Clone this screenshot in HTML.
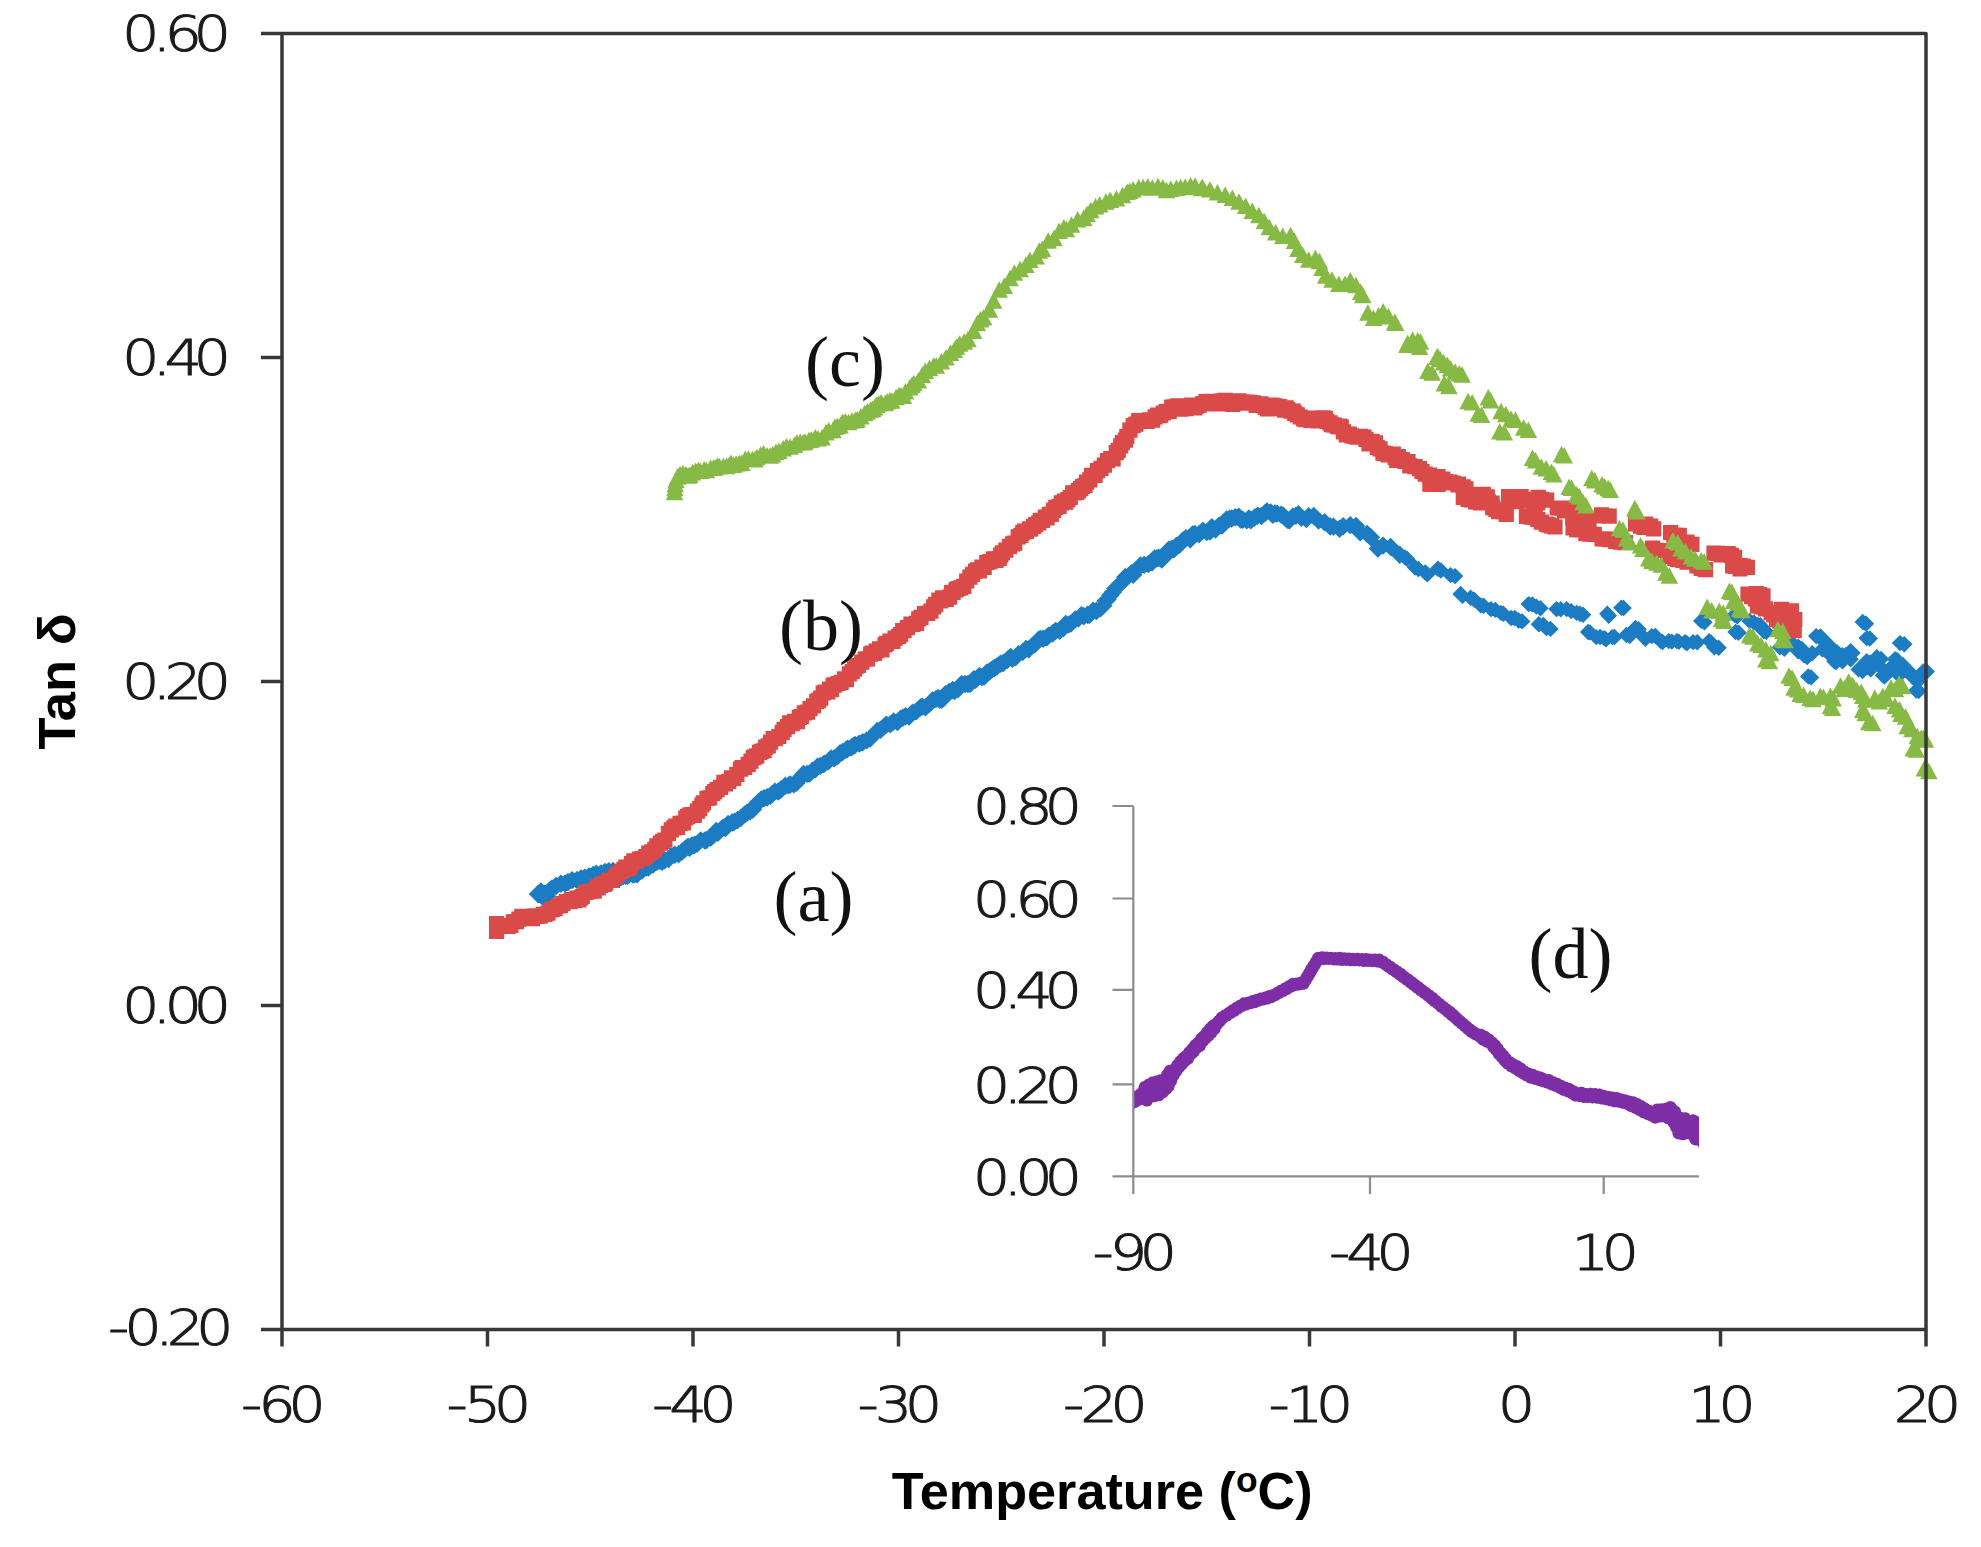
<!DOCTYPE html><html><head><meta charset="utf-8"><title>Tan delta vs Temperature</title>
<style>html,body{margin:0;padding:0;background:#fff}svg{display:block}.t{font-family:"DejaVu Sans Light","DejaVu Sans","Liberation Sans",sans-serif;font-weight:200;font-size:50.5px;letter-spacing:-6.5px;fill:#1a1a1a;stroke:#1a1a1a;stroke-width:1.0px}.ty{letter-spacing:-7.25px}.b{font-family:"Liberation Sans","DejaVu Sans",sans-serif;font-weight:bold;fill:#000}.s{font-family:"Liberation Serif",serif;font-size:72px;fill:#111}</style></head><body>
<svg width="1981" height="1547" viewBox="0 0 1981 1547">
<rect width="1981" height="1547" fill="#fff"/>
<path fill="#1c7cc3" d="M538 884.8l9.2 9.2l-9.2 9.2l-9.2 -9.2zM541 882.2l9.2 9.2l-9.2 9.2l-9.2 -9.2zM545 884.8l9.2 9.2l-9.2 9.2l-9.2 -9.2zM549 881.8l9.2 9.2l-9.2 9.2l-9.2 -9.2zM547 886.8l9.2 9.2l-9.2 9.2l-9.2 -9.2zM543 887.8l9.2 9.2l-9.2 9.2l-9.2 -9.2zM552 879.2l9.2 9.2l-9.2 9.2l-9.2 -9.2zM556 876.8l9.2 9.2l-9.2 9.2l-9.2 -9.2zM560.9 874.6l9.2 9.2l-9.2 9.2l-9.2 -9.2zM565 874.2l9.2 9.2l-9.2 9.2l-9.2 -9.2zM568 872.8l9.2 9.2l-9.2 9.2l-9.2 -9.2zM572.2 870.9l9.2 9.2l-9.2 9.2l-9.2 -9.2zM577 870.8l9.2 9.2l-9.2 9.2l-9.2 -9.2zM581 869.2l9.2 9.2l-9.2 9.2l-9.2 -9.2zM584.8 868.4l9.2 9.2l-9.2 9.2l-9.2 -9.2zM589 867.2l9.2 9.2l-9.2 9.2l-9.2 -9.2zM593 865.8l9.2 9.2l-9.2 9.2l-9.2 -9.2zM596.2 864.5l9.2 9.2l-9.2 9.2l-9.2 -9.2zM601 864.2l9.2 9.2l-9.2 9.2l-9.2 -9.2zM605 862.8l9.2 9.2l-9.2 9.2l-9.2 -9.2zM608.8 862l9.2 9.2l-9.2 9.2l-9.2 -9.2zM613 861.8l9.2 9.2l-9.2 9.2l-9.2 -9.2zM618 866.7l9.2 9.2l-9.2 9.2l-9.2 -9.2zM620.8 868.2l9.2 9.2l-9.2 9.2l-9.2 -9.2zM623 867.1l9.2 9.2l-9.2 9.2l-9.2 -9.2zM625.7 866.5l9.2 9.2l-9.2 9.2l-9.2 -9.2zM627.7 866.7l9.2 9.2l-9.2 9.2l-9.2 -9.2zM630.3 863.8l9.2 9.2l-9.2 9.2l-9.2 -9.2zM632.7 865l9.2 9.2l-9.2 9.2l-9.2 -9.2zM634.4 865l9.2 9.2l-9.2 9.2l-9.2 -9.2zM637.1 865l9.2 9.2l-9.2 9.2l-9.2 -9.2zM639.7 861.6l9.2 9.2l-9.2 9.2l-9.2 -9.2zM642 861.3l9.2 9.2l-9.2 9.2l-9.2 -9.2zM646.2 858.4l9.2 9.2l-9.2 9.2l-9.2 -9.2zM648.4 858.4l9.2 9.2l-9.2 9.2l-9.2 -9.2zM651.1 855.2l9.2 9.2l-9.2 9.2l-9.2 -9.2zM653.1 855.4l9.2 9.2l-9.2 9.2l-9.2 -9.2zM657 852.5l9.2 9.2l-9.2 9.2l-9.2 -9.2zM659.9 851.5l9.2 9.2l-9.2 9.2l-9.2 -9.2zM662.1 852.5l9.2 9.2l-9.2 9.2l-9.2 -9.2zM664.7 851.1l9.2 9.2l-9.2 9.2l-9.2 -9.2zM668.6 849.9l9.2 9.2l-9.2 9.2l-9.2 -9.2zM671.5 846.9l9.2 9.2l-9.2 9.2l-9.2 -9.2zM674.7 845.5l9.2 9.2l-9.2 9.2l-9.2 -9.2zM678.6 845.1l9.2 9.2l-9.2 9.2l-9.2 -9.2zM682.5 842l9.2 9.2l-9.2 9.2l-9.2 -9.2zM685.2 839.7l9.2 9.2l-9.2 9.2l-9.2 -9.2zM688 837.6l9.2 9.2l-9.2 9.2l-9.2 -9.2zM689.6 838.6l9.2 9.2l-9.2 9.2l-9.2 -9.2zM692 836.3l9.2 9.2l-9.2 9.2l-9.2 -9.2zM694.5 835.8l9.2 9.2l-9.2 9.2l-9.2 -9.2zM697.3 834.4l9.2 9.2l-9.2 9.2l-9.2 -9.2zM700.7 831.2l9.2 9.2l-9.2 9.2l-9.2 -9.2zM704.9 831.3l9.2 9.2l-9.2 9.2l-9.2 -9.2zM706.7 830.7l9.2 9.2l-9.2 9.2l-9.2 -9.2zM710.8 828.3l9.2 9.2l-9.2 9.2l-9.2 -9.2zM712.8 826.7l9.2 9.2l-9.2 9.2l-9.2 -9.2zM716.2 821.7l9.2 9.2l-9.2 9.2l-9.2 -9.2zM717.9 823.6l9.2 9.2l-9.2 9.2l-9.2 -9.2zM721.3 820l9.2 9.2l-9.2 9.2l-9.2 -9.2zM723.2 818.6l9.2 9.2l-9.2 9.2l-9.2 -9.2zM725.5 818.8l9.2 9.2l-9.2 9.2l-9.2 -9.2zM728.1 814.7l9.2 9.2l-9.2 9.2l-9.2 -9.2zM732.2 813.3l9.2 9.2l-9.2 9.2l-9.2 -9.2zM734.3 812.7l9.2 9.2l-9.2 9.2l-9.2 -9.2zM737.6 810.8l9.2 9.2l-9.2 9.2l-9.2 -9.2zM741 808.5l9.2 9.2l-9.2 9.2l-9.2 -9.2zM744.8 805.2l9.2 9.2l-9.2 9.2l-9.2 -9.2zM747 803.5l9.2 9.2l-9.2 9.2l-9.2 -9.2zM750.1 802l9.2 9.2l-9.2 9.2l-9.2 -9.2zM752.9 800.3l9.2 9.2l-9.2 9.2l-9.2 -9.2zM756 795.5l9.2 9.2l-9.2 9.2l-9.2 -9.2zM758.3 792.9l9.2 9.2l-9.2 9.2l-9.2 -9.2zM761.3 790.3l9.2 9.2l-9.2 9.2l-9.2 -9.2zM764.2 788.9l9.2 9.2l-9.2 9.2l-9.2 -9.2zM767.2 788.1l9.2 9.2l-9.2 9.2l-9.2 -9.2zM770.3 786.6l9.2 9.2l-9.2 9.2l-9.2 -9.2zM772 785.1l9.2 9.2l-9.2 9.2l-9.2 -9.2zM774.9 782.4l9.2 9.2l-9.2 9.2l-9.2 -9.2zM778.3 782.3l9.2 9.2l-9.2 9.2l-9.2 -9.2zM781 780.3l9.2 9.2l-9.2 9.2l-9.2 -9.2zM785.2 776.8l9.2 9.2l-9.2 9.2l-9.2 -9.2zM788.6 776.2l9.2 9.2l-9.2 9.2l-9.2 -9.2zM790.3 775.3l9.2 9.2l-9.2 9.2l-9.2 -9.2zM793.8 775l9.2 9.2l-9.2 9.2l-9.2 -9.2zM796.4 773.7l9.2 9.2l-9.2 9.2l-9.2 -9.2zM799.4 769.6l9.2 9.2l-9.2 9.2l-9.2 -9.2zM803.5 764.7l9.2 9.2l-9.2 9.2l-9.2 -9.2zM807.1 764.7l9.2 9.2l-9.2 9.2l-9.2 -9.2zM809.6 764.4l9.2 9.2l-9.2 9.2l-9.2 -9.2zM812.3 761.6l9.2 9.2l-9.2 9.2l-9.2 -9.2zM815.3 760.1l9.2 9.2l-9.2 9.2l-9.2 -9.2zM817.5 757.6l9.2 9.2l-9.2 9.2l-9.2 -9.2zM820.3 756.7l9.2 9.2l-9.2 9.2l-9.2 -9.2zM824.2 754.6l9.2 9.2l-9.2 9.2l-9.2 -9.2zM828.1 752.3l9.2 9.2l-9.2 9.2l-9.2 -9.2zM831.1 749.2l9.2 9.2l-9.2 9.2l-9.2 -9.2zM834.1 749.2l9.2 9.2l-9.2 9.2l-9.2 -9.2zM837.5 747l9.2 9.2l-9.2 9.2l-9.2 -9.2zM840.1 744.1l9.2 9.2l-9.2 9.2l-9.2 -9.2zM842.6 742.9l9.2 9.2l-9.2 9.2l-9.2 -9.2zM845.9 740.7l9.2 9.2l-9.2 9.2l-9.2 -9.2zM847.7 739.5l9.2 9.2l-9.2 9.2l-9.2 -9.2zM851.7 737.9l9.2 9.2l-9.2 9.2l-9.2 -9.2zM853.5 736.7l9.2 9.2l-9.2 9.2l-9.2 -9.2zM855.2 735.7l9.2 9.2l-9.2 9.2l-9.2 -9.2zM859.3 734.4l9.2 9.2l-9.2 9.2l-9.2 -9.2zM862.7 733.1l9.2 9.2l-9.2 9.2l-9.2 -9.2zM866.8 731.2l9.2 9.2l-9.2 9.2l-9.2 -9.2zM870.2 729.3l9.2 9.2l-9.2 9.2l-9.2 -9.2zM873.7 725.8l9.2 9.2l-9.2 9.2l-9.2 -9.2zM877.2 721.7l9.2 9.2l-9.2 9.2l-9.2 -9.2zM880.6 720.5l9.2 9.2l-9.2 9.2l-9.2 -9.2zM884.3 717.2l9.2 9.2l-9.2 9.2l-9.2 -9.2zM886.5 715.4l9.2 9.2l-9.2 9.2l-9.2 -9.2zM890.2 715.2l9.2 9.2l-9.2 9.2l-9.2 -9.2zM893.6 712.3l9.2 9.2l-9.2 9.2l-9.2 -9.2zM897.5 712.8l9.2 9.2l-9.2 9.2l-9.2 -9.2zM900.7 709.6l9.2 9.2l-9.2 9.2l-9.2 -9.2zM903.1 708.4l9.2 9.2l-9.2 9.2l-9.2 -9.2zM905.6 707l9.2 9.2l-9.2 9.2l-9.2 -9.2zM909 707.3l9.2 9.2l-9.2 9.2l-9.2 -9.2zM910.8 705.7l9.2 9.2l-9.2 9.2l-9.2 -9.2zM912.6 703.5l9.2 9.2l-9.2 9.2l-9.2 -9.2zM916.4 701.9l9.2 9.2l-9.2 9.2l-9.2 -9.2zM920.5 698.3l9.2 9.2l-9.2 9.2l-9.2 -9.2zM922.2 697.4l9.2 9.2l-9.2 9.2l-9.2 -9.2zM925.5 698l9.2 9.2l-9.2 9.2l-9.2 -9.2zM929.8 694.3l9.2 9.2l-9.2 9.2l-9.2 -9.2zM932.5 691.2l9.2 9.2l-9.2 9.2l-9.2 -9.2zM935.9 689.9l9.2 9.2l-9.2 9.2l-9.2 -9.2zM938 688.7l9.2 9.2l-9.2 9.2l-9.2 -9.2zM939.7 690.3l9.2 9.2l-9.2 9.2l-9.2 -9.2zM941.6 690.5l9.2 9.2l-9.2 9.2l-9.2 -9.2zM943.5 689.1l9.2 9.2l-9.2 9.2l-9.2 -9.2zM945.5 684.9l9.2 9.2l-9.2 9.2l-9.2 -9.2zM949.1 682.8l9.2 9.2l-9.2 9.2l-9.2 -9.2zM952.7 680.8l9.2 9.2l-9.2 9.2l-9.2 -9.2zM954.5 681.8l9.2 9.2l-9.2 9.2l-9.2 -9.2zM958.1 679.9l9.2 9.2l-9.2 9.2l-9.2 -9.2zM961.7 674.7l9.2 9.2l-9.2 9.2l-9.2 -9.2zM965.1 674.8l9.2 9.2l-9.2 9.2l-9.2 -9.2zM968 674.8l9.2 9.2l-9.2 9.2l-9.2 -9.2zM970.3 674.5l9.2 9.2l-9.2 9.2l-9.2 -9.2zM973.9 669.9l9.2 9.2l-9.2 9.2l-9.2 -9.2zM975.6 670.7l9.2 9.2l-9.2 9.2l-9.2 -9.2zM979.4 666.8l9.2 9.2l-9.2 9.2l-9.2 -9.2zM981.9 667.9l9.2 9.2l-9.2 9.2l-9.2 -9.2zM984 667.6l9.2 9.2l-9.2 9.2l-9.2 -9.2zM987 663.3l9.2 9.2l-9.2 9.2l-9.2 -9.2zM989.6 662.3l9.2 9.2l-9.2 9.2l-9.2 -9.2zM992.5 659.9l9.2 9.2l-9.2 9.2l-9.2 -9.2zM994.5 658.9l9.2 9.2l-9.2 9.2l-9.2 -9.2zM997.1 657.1l9.2 9.2l-9.2 9.2l-9.2 -9.2zM1000.5 654.6l9.2 9.2l-9.2 9.2l-9.2 -9.2zM1003.2 653.8l9.2 9.2l-9.2 9.2l-9.2 -9.2zM1007.4 650.5l9.2 9.2l-9.2 9.2l-9.2 -9.2zM1010.6 647.8l9.2 9.2l-9.2 9.2l-9.2 -9.2zM1012.4 649.5l9.2 9.2l-9.2 9.2l-9.2 -9.2zM1015.9 647.6l9.2 9.2l-9.2 9.2l-9.2 -9.2zM1018.5 645.1l9.2 9.2l-9.2 9.2l-9.2 -9.2zM1022.8 642.7l9.2 9.2l-9.2 9.2l-9.2 -9.2zM1026 639.7l9.2 9.2l-9.2 9.2l-9.2 -9.2zM1028.8 640.1l9.2 9.2l-9.2 9.2l-9.2 -9.2zM1031.5 637.4l9.2 9.2l-9.2 9.2l-9.2 -9.2zM1034.8 635l9.2 9.2l-9.2 9.2l-9.2 -9.2zM1038.6 630.5l9.2 9.2l-9.2 9.2l-9.2 -9.2zM1040.3 629.7l9.2 9.2l-9.2 9.2l-9.2 -9.2zM1043.1 629.6l9.2 9.2l-9.2 9.2l-9.2 -9.2zM1046.9 628l9.2 9.2l-9.2 9.2l-9.2 -9.2zM1048.7 626.4l9.2 9.2l-9.2 9.2l-9.2 -9.2zM1052.5 624.3l9.2 9.2l-9.2 9.2l-9.2 -9.2zM1055.7 621.7l9.2 9.2l-9.2 9.2l-9.2 -9.2zM1059.7 621.6l9.2 9.2l-9.2 9.2l-9.2 -9.2zM1063.2 619.1l9.2 9.2l-9.2 9.2l-9.2 -9.2zM1065.7 614.7l9.2 9.2l-9.2 9.2l-9.2 -9.2zM1068.9 615.2l9.2 9.2l-9.2 9.2l-9.2 -9.2zM1071.1 614.2l9.2 9.2l-9.2 9.2l-9.2 -9.2zM1075.2 610.3l9.2 9.2l-9.2 9.2l-9.2 -9.2zM1078.5 609l9.2 9.2l-9.2 9.2l-9.2 -9.2zM1081.4 606.1l9.2 9.2l-9.2 9.2l-9.2 -9.2zM1083.8 607.1l9.2 9.2l-9.2 9.2l-9.2 -9.2zM1087.6 605.5l9.2 9.2l-9.2 9.2l-9.2 -9.2zM1089.5 605.7l9.2 9.2l-9.2 9.2l-9.2 -9.2zM1093.2 601.5l9.2 9.2l-9.2 9.2l-9.2 -9.2zM1096.4 601.8l9.2 9.2l-9.2 9.2l-9.2 -9.2zM1100.4 599.2l9.2 9.2l-9.2 9.2l-9.2 -9.2zM1103.4 596.3l9.2 9.2l-9.2 9.2l-9.2 -9.2zM1105.5 591.9l9.2 9.2l-9.2 9.2l-9.2 -9.2zM1107.7 590.1l9.2 9.2l-9.2 9.2l-9.2 -9.2zM1110.3 586.1l9.2 9.2l-9.2 9.2l-9.2 -9.2zM1113 582.9l9.2 9.2l-9.2 9.2l-9.2 -9.2zM1115.1 579.5l9.2 9.2l-9.2 9.2l-9.2 -9.2zM1119.4 575.4l9.2 9.2l-9.2 9.2l-9.2 -9.2zM1121.4 573.7l9.2 9.2l-9.2 9.2l-9.2 -9.2zM1125.2 568.1l9.2 9.2l-9.2 9.2l-9.2 -9.2zM1128.4 566.7l9.2 9.2l-9.2 9.2l-9.2 -9.2zM1131.5 564l9.2 9.2l-9.2 9.2l-9.2 -9.2zM1133.2 565.5l9.2 9.2l-9.2 9.2l-9.2 -9.2zM1137.2 559.8l9.2 9.2l-9.2 9.2l-9.2 -9.2zM1140.4 556.2l9.2 9.2l-9.2 9.2l-9.2 -9.2zM1144.1 555.7l9.2 9.2l-9.2 9.2l-9.2 -9.2zM1148.3 554.9l9.2 9.2l-9.2 9.2l-9.2 -9.2zM1152.2 553l9.2 9.2l-9.2 9.2l-9.2 -9.2zM1154.5 549.2l9.2 9.2l-9.2 9.2l-9.2 -9.2zM1156.7 549.2l9.2 9.2l-9.2 9.2l-9.2 -9.2zM1158.6 548.6l9.2 9.2l-9.2 9.2l-9.2 -9.2zM1161.8 550.3l9.2 9.2l-9.2 9.2l-9.2 -9.2zM1164.6 547.5l9.2 9.2l-9.2 9.2l-9.2 -9.2zM1168.8 540.6l9.2 9.2l-9.2 9.2l-9.2 -9.2zM1172 539.6l9.2 9.2l-9.2 9.2l-9.2 -9.2zM1174 540.1l9.2 9.2l-9.2 9.2l-9.2 -9.2zM1176.3 536.7l9.2 9.2l-9.2 9.2l-9.2 -9.2zM1179.7 535.4l9.2 9.2l-9.2 9.2l-9.2 -9.2zM1183.2 531l9.2 9.2l-9.2 9.2l-9.2 -9.2zM1186 528.9l9.2 9.2l-9.2 9.2l-9.2 -9.2zM1190.3 530.2l9.2 9.2l-9.2 9.2l-9.2 -9.2zM1192.5 525.3l9.2 9.2l-9.2 9.2l-9.2 -9.2zM1194.9 524.7l9.2 9.2l-9.2 9.2l-9.2 -9.2zM1199 525l9.2 9.2l-9.2 9.2l-9.2 -9.2zM1202.9 521.4l9.2 9.2l-9.2 9.2l-9.2 -9.2zM1206.7 522.9l9.2 9.2l-9.2 9.2l-9.2 -9.2zM1210 522.3l9.2 9.2l-9.2 9.2l-9.2 -9.2zM1211.8 518.1l9.2 9.2l-9.2 9.2l-9.2 -9.2zM1215.5 520.3l9.2 9.2l-9.2 9.2l-9.2 -9.2zM1219 516.6l9.2 9.2l-9.2 9.2l-9.2 -9.2zM1222.3 516.2l9.2 9.2l-9.2 9.2l-9.2 -9.2zM1224.2 512.7l9.2 9.2l-9.2 9.2l-9.2 -9.2zM1226.5 510.2l9.2 9.2l-9.2 9.2l-9.2 -9.2zM1229.5 509.6l9.2 9.2l-9.2 9.2l-9.2 -9.2zM1231.8 509.3l9.2 9.2l-9.2 9.2l-9.2 -9.2zM1235.3 508.1l9.2 9.2l-9.2 9.2l-9.2 -9.2zM1238.8 507.5l9.2 9.2l-9.2 9.2l-9.2 -9.2zM1240.6 510.4l9.2 9.2l-9.2 9.2l-9.2 -9.2zM1242.8 510.5l9.2 9.2l-9.2 9.2l-9.2 -9.2zM1246.8 511.2l9.2 9.2l-9.2 9.2l-9.2 -9.2zM1248.9 509.3l9.2 9.2l-9.2 9.2l-9.2 -9.2zM1250.8 511.1l9.2 9.2l-9.2 9.2l-9.2 -9.2zM1254.7 508.3l9.2 9.2l-9.2 9.2l-9.2 -9.2zM1257.6 506.4l9.2 9.2l-9.2 9.2l-9.2 -9.2zM1261.4 506.8l9.2 9.2l-9.2 9.2l-9.2 -9.2zM1264.8 504l9.2 9.2l-9.2 9.2l-9.2 -9.2zM1267 502.2l9.2 9.2l-9.2 9.2l-9.2 -9.2zM1270.6 503.2l9.2 9.2l-9.2 9.2l-9.2 -9.2zM1272.7 505.5l9.2 9.2l-9.2 9.2l-9.2 -9.2zM1275 504.3l9.2 9.2l-9.2 9.2l-9.2 -9.2zM1277.1 504.4l9.2 9.2l-9.2 9.2l-9.2 -9.2zM1281 505.4l9.2 9.2l-9.2 9.2l-9.2 -9.2zM1283.1 506.3l9.2 9.2l-9.2 9.2l-9.2 -9.2zM1285.6 509.1l9.2 9.2l-9.2 9.2l-9.2 -9.2zM1287.6 510.5l9.2 9.2l-9.2 9.2l-9.2 -9.2zM1289.4 511l9.2 9.2l-9.2 9.2l-9.2 -9.2zM1292.8 507.5l9.2 9.2l-9.2 9.2l-9.2 -9.2zM1295.9 506.6l9.2 9.2l-9.2 9.2l-9.2 -9.2zM1298.4 505l9.2 9.2l-9.2 9.2l-9.2 -9.2zM1301.4 508.6l9.2 9.2l-9.2 9.2l-9.2 -9.2zM1306.4 509.9l9.2 9.2l-9.2 9.2l-9.2 -9.2zM1308.7 507l9.2 9.2l-9.2 9.2l-9.2 -9.2zM1313.8 506.8l9.2 9.2l-9.2 9.2l-9.2 -9.2zM1318.6 511.4l9.2 9.2l-9.2 9.2l-9.2 -9.2zM1324.6 513.1l9.2 9.2l-9.2 9.2l-9.2 -9.2zM1330.2 517.3l9.2 9.2l-9.2 9.2l-9.2 -9.2zM1333.4 517.4l9.2 9.2l-9.2 9.2l-9.2 -9.2zM1339.6 519.6l9.2 9.2l-9.2 9.2l-9.2 -9.2zM1343.2 517l9.2 9.2l-9.2 9.2l-9.2 -9.2zM1350.3 515.9l9.2 9.2l-9.2 9.2l-9.2 -9.2zM1356.1 516.8l9.2 9.2l-9.2 9.2l-9.2 -9.2zM1360.1 523.1l9.2 9.2l-9.2 9.2l-9.2 -9.2zM1367.1 524.7l9.2 9.2l-9.2 9.2l-9.2 -9.2zM1370.9 528l9.2 9.2l-9.2 9.2l-9.2 -9.2zM1377.9 539.4l9.2 9.2l-9.2 9.2l-9.2 -9.2zM1383.1 536.4l9.2 9.2l-9.2 9.2l-9.2 -9.2zM1390.6 537.7l9.2 9.2l-9.2 9.2l-9.2 -9.2zM1399.7 545.5l9.2 9.2l-9.2 9.2l-9.2 -9.2zM1405 549.2l8.2 8.2l-8.2 8.2l-8.2 -8.2zM1407.2 550.7l8.2 8.2l-8.2 8.2l-8.2 -8.2zM1415.1 559.3l8.2 8.2l-8.2 8.2l-8.2 -8.2zM1418.4 560.8l8.2 8.2l-8.2 8.2l-8.2 -8.2zM1425.2 564.3l8.2 8.2l-8.2 8.2l-8.2 -8.2zM1427.4 566l8.2 8.2l-8.2 8.2l-8.2 -8.2zM1437.9 560.6l8.2 8.2l-8.2 8.2l-8.2 -8.2zM1440.9 562.3l8.2 8.2l-8.2 8.2l-8.2 -8.2zM1450.5 566.9l8.2 8.2l-8.2 8.2l-8.2 -8.2zM1455.1 567.9l8.2 8.2l-8.2 8.2l-8.2 -8.2zM1460.6 585.8l8.2 8.2l-8.2 8.2l-8.2 -8.2zM1462.6 587.7l8.2 8.2l-8.2 8.2l-8.2 -8.2zM1470.7 589.6l8.2 8.2l-8.2 8.2l-8.2 -8.2zM1474.1 591.4l8.2 8.2l-8.2 8.2l-8.2 -8.2zM1480.8 597.2l8.2 8.2l-8.2 8.2l-8.2 -8.2zM1483.6 597.6l8.2 8.2l-8.2 8.2l-8.2 -8.2zM1490.9 600.9l8.2 8.2l-8.2 8.2l-8.2 -8.2zM1495.4 601.7l8.2 8.2l-8.2 8.2l-8.2 -8.2zM1501 604.7l8.2 8.2l-8.2 8.2l-8.2 -8.2zM1503.4 605.5l8.2 8.2l-8.2 8.2l-8.2 -8.2zM1511.1 609.8l8.2 8.2l-8.2 8.2l-8.2 -8.2zM1514.8 609.8l8.2 8.2l-8.2 8.2l-8.2 -8.2zM1518.6 612.3l8.2 8.2l-8.2 8.2l-8.2 -8.2zM1522.2 613.2l8.2 8.2l-8.2 8.2l-8.2 -8.2zM1528.7 595.9l8.2 8.2l-8.2 8.2l-8.2 -8.2zM1532.3 596.2l8.2 8.2l-8.2 8.2l-8.2 -8.2zM1536.3 598.4l8.2 8.2l-8.2 8.2l-8.2 -8.2zM1540.4 600.1l8.2 8.2l-8.2 8.2l-8.2 -8.2zM1538.8 616.1l8.2 8.2l-8.2 8.2l-8.2 -8.2zM1543.4 616.8l8.2 8.2l-8.2 8.2l-8.2 -8.2zM1546.4 619.9l8.2 8.2l-8.2 8.2l-8.2 -8.2zM1550.5 620.7l8.2 8.2l-8.2 8.2l-8.2 -8.2zM1556.5 600.9l8.2 8.2l-8.2 8.2l-8.2 -8.2zM1560.7 601.1l8.2 8.2l-8.2 8.2l-8.2 -8.2zM1566.6 600.9l8.2 8.2l-8.2 8.2l-8.2 -8.2zM1571.2 602.9l8.2 8.2l-8.2 8.2l-8.2 -8.2zM1576.7 604.7l8.2 8.2l-8.2 8.2l-8.2 -8.2zM1580.2 605.8l8.2 8.2l-8.2 8.2l-8.2 -8.2zM1580 605.6l8.2 8.2l-8.2 8.2l-8.2 -8.2zM1583.1 606.6l8.2 8.2l-8.2 8.2l-8.2 -8.2zM1607.3 605.6l8.2 8.2l-8.2 8.2l-8.2 -8.2zM1608.8 607.5l8.2 8.2l-8.2 8.2l-8.2 -8.2zM1621.4 599.6l8.2 8.2l-8.2 8.2l-8.2 -8.2zM1623.6 599.8l8.2 8.2l-8.2 8.2l-8.2 -8.2zM1588.1 623.8l8.2 8.2l-8.2 8.2l-8.2 -8.2zM1589.9 624.2l8.2 8.2l-8.2 8.2l-8.2 -8.2zM1596.2 628.9l8.2 8.2l-8.2 8.2l-8.2 -8.2zM1600.1 628.8l8.2 8.2l-8.2 8.2l-8.2 -8.2zM1604.2 629.9l8.2 8.2l-8.2 8.2l-8.2 -8.2zM1606 631.2l8.2 8.2l-8.2 8.2l-8.2 -8.2zM1612.3 628.9l8.2 8.2l-8.2 8.2l-8.2 -8.2zM1614.4 628.8l8.2 8.2l-8.2 8.2l-8.2 -8.2zM1626.4 626.8l8.2 8.2l-8.2 8.2l-8.2 -8.2zM1629.7 627.9l8.2 8.2l-8.2 8.2l-8.2 -8.2zM1635.5 619.8l8.2 8.2l-8.2 8.2l-8.2 -8.2zM1638.6 621.1l8.2 8.2l-8.2 8.2l-8.2 -8.2zM1643.6 628.9l8.2 8.2l-8.2 8.2l-8.2 -8.2zM1645.4 630.5l8.2 8.2l-8.2 8.2l-8.2 -8.2zM1651.7 627.9l8.2 8.2l-8.2 8.2l-8.2 -8.2zM1655.3 627.8l8.2 8.2l-8.2 8.2l-8.2 -8.2zM1660.8 632.9l8.2 8.2l-8.2 8.2l-8.2 -8.2zM1662.6 633.8l8.2 8.2l-8.2 8.2l-8.2 -8.2zM1668.8 632.9l8.2 8.2l-8.2 8.2l-8.2 -8.2zM1671.8 633.4l8.2 8.2l-8.2 8.2l-8.2 -8.2zM1676.9 632.9l8.2 8.2l-8.2 8.2l-8.2 -8.2zM1678.8 633.6l8.2 8.2l-8.2 8.2l-8.2 -8.2zM1685 633.9l8.2 8.2l-8.2 8.2l-8.2 -8.2zM1686.9 635l8.2 8.2l-8.2 8.2l-8.2 -8.2zM1693.1 633.9l8.2 8.2l-8.2 8.2l-8.2 -8.2zM1697.2 634.1l8.2 8.2l-8.2 8.2l-8.2 -8.2zM1701.2 612.7l8.2 8.2l-8.2 8.2l-8.2 -8.2zM1704.4 614.1l8.2 8.2l-8.2 8.2l-8.2 -8.2zM1709.2 632.9l8.2 8.2l-8.2 8.2l-8.2 -8.2zM1711.2 634.5l8.2 8.2l-8.2 8.2l-8.2 -8.2zM1714.3 639l8.2 8.2l-8.2 8.2l-8.2 -8.2zM1718.6 639.6l8.2 8.2l-8.2 8.2l-8.2 -8.2zM1734.5 606.7l8.2 8.2l-8.2 8.2l-8.2 -8.2zM1737.2 608.2l8.2 8.2l-8.2 8.2l-8.2 -8.2zM1735.5 623.8l8.2 8.2l-8.2 8.2l-8.2 -8.2zM1738.6 624.5l8.2 8.2l-8.2 8.2l-8.2 -8.2zM1749.6 612.7l8.2 8.2l-8.2 8.2l-8.2 -8.2zM1753.9 614.2l8.2 8.2l-8.2 8.2l-8.2 -8.2zM1757.7 616.7l8.2 8.2l-8.2 8.2l-8.2 -8.2zM1760.2 617.1l8.2 8.2l-8.2 8.2l-8.2 -8.2zM1763.7 622.8l8.2 8.2l-8.2 8.2l-8.2 -8.2zM1766.3 623.6l8.2 8.2l-8.2 8.2l-8.2 -8.2zM1779.9 639l8.2 8.2l-8.2 8.2l-8.2 -8.2zM1784.3 640.5l8.2 8.2l-8.2 8.2l-8.2 -8.2zM1794 636.9l8.2 8.2l-8.2 8.2l-8.2 -8.2zM1798.3 638.5l8.2 8.2l-8.2 8.2l-8.2 -8.2zM1798.1 643l8.2 8.2l-8.2 8.2l-8.2 -8.2zM1802.1 643l8.2 8.2l-8.2 8.2l-8.2 -8.2zM1804.1 647l8.2 8.2l-8.2 8.2l-8.2 -8.2zM1807.2 648.9l8.2 8.2l-8.2 8.2l-8.2 -8.2zM1816.2 627.9l8.2 8.2l-8.2 8.2l-8.2 -8.2zM1820.5 628.3l8.2 8.2l-8.2 8.2l-8.2 -8.2zM1825.3 634.9l8.2 8.2l-8.2 8.2l-8.2 -8.2zM1828.1 636.1l8.2 8.2l-8.2 8.2l-8.2 -8.2zM1834.4 643l8.2 8.2l-8.2 8.2l-8.2 -8.2zM1837 644l8.2 8.2l-8.2 8.2l-8.2 -8.2zM1834.4 653.1l8.2 8.2l-8.2 8.2l-8.2 -8.2zM1836.1 653.9l8.2 8.2l-8.2 8.2l-8.2 -8.2zM1842.5 647l8.2 8.2l-8.2 8.2l-8.2 -8.2zM1845.5 647l8.2 8.2l-8.2 8.2l-8.2 -8.2zM1850.6 643l8.2 8.2l-8.2 8.2l-8.2 -8.2zM1852.5 644.8l8.2 8.2l-8.2 8.2l-8.2 -8.2zM1858.6 661.2l8.2 8.2l-8.2 8.2l-8.2 -8.2zM1862.5 662.9l8.2 8.2l-8.2 8.2l-8.2 -8.2zM1866.7 653.1l8.2 8.2l-8.2 8.2l-8.2 -8.2zM1870.1 654.6l8.2 8.2l-8.2 8.2l-8.2 -8.2zM1876.8 649.1l8.2 8.2l-8.2 8.2l-8.2 -8.2zM1881 650.7l8.2 8.2l-8.2 8.2l-8.2 -8.2zM1882.9 667.2l8.2 8.2l-8.2 8.2l-8.2 -8.2zM1884.5 668.4l8.2 8.2l-8.2 8.2l-8.2 -8.2zM1891 659.2l8.2 8.2l-8.2 8.2l-8.2 -8.2zM1893.3 660.4l8.2 8.2l-8.2 8.2l-8.2 -8.2zM1895 651.1l8.2 8.2l-8.2 8.2l-8.2 -8.2zM1897.3 652.1l8.2 8.2l-8.2 8.2l-8.2 -8.2zM1900 634.9l8.2 8.2l-8.2 8.2l-8.2 -8.2zM1904.3 636.1l8.2 8.2l-8.2 8.2l-8.2 -8.2zM1907.1 663.2l8.2 8.2l-8.2 8.2l-8.2 -8.2zM1909.4 664.1l8.2 8.2l-8.2 8.2l-8.2 -8.2zM1915.2 671.3l8.2 8.2l-8.2 8.2l-8.2 -8.2zM1918 673.1l8.2 8.2l-8.2 8.2l-8.2 -8.2zM1916.2 682.4l8.2 8.2l-8.2 8.2l-8.2 -8.2zM1918.6 682.9l8.2 8.2l-8.2 8.2l-8.2 -8.2zM1923.3 663.2l8.2 8.2l-8.2 8.2l-8.2 -8.2zM1926.7 663.3l8.2 8.2l-8.2 8.2l-8.2 -8.2zM1862.7 613.7l8.2 8.2l-8.2 8.2l-8.2 -8.2zM1866 615.5l8.2 8.2l-8.2 8.2l-8.2 -8.2zM1866.7 629.9l8.2 8.2l-8.2 8.2l-8.2 -8.2zM1869.8 630.3l8.2 8.2l-8.2 8.2l-8.2 -8.2zM1808.2 668.2l8.2 8.2l-8.2 8.2l-8.2 -8.2zM1811.1 669.2l8.2 8.2l-8.2 8.2l-8.2 -8.2zM1790 632.9l8.2 8.2l-8.2 8.2l-8.2 -8.2zM1802.1 641l8.2 8.2l-8.2 8.2l-8.2 -8.2zM1812.2 645l8.2 8.2l-8.2 8.2l-8.2 -8.2zM1822.3 641l8.2 8.2l-8.2 8.2l-8.2 -8.2zM1830.4 647l8.2 8.2l-8.2 8.2l-8.2 -8.2zM1842.5 653.1l8.2 8.2l-8.2 8.2l-8.2 -8.2zM1850.6 651.1l8.2 8.2l-8.2 8.2l-8.2 -8.2zM1862.7 661.2l8.2 8.2l-8.2 8.2l-8.2 -8.2zM1870.8 661.2l8.2 8.2l-8.2 8.2l-8.2 -8.2zM1878.8 657.1l8.2 8.2l-8.2 8.2l-8.2 -8.2zM1886.9 665.2l8.2 8.2l-8.2 8.2l-8.2 -8.2zM1899 667.2l8.2 8.2l-8.2 8.2l-8.2 -8.2zM1903.1 657.1l8.2 8.2l-8.2 8.2l-8.2 -8.2zM1911.1 665.2l8.2 8.2l-8.2 8.2l-8.2 -8.2zM1919.2 671.3l8.2 8.2l-8.2 8.2l-8.2 -8.2z"/>
<path fill="#da4a48" d="M489 915.9h15.2v15.2h-15.2zM489 923.9h15.2v15.2h-15.2zM489 919.9h15.2v15.2h-15.2zM492.4 918.9h15.2v15.2h-15.2zM496.4 918.2h15.2v15.2h-15.2zM500.4 918.7h15.2v15.2h-15.2zM503.2 917.9h15.2v15.2h-15.2zM505.7 914.3h15.2v15.2h-15.2zM508.8 914.1h15.2v15.2h-15.2zM511.3 911.5h15.2v15.2h-15.2zM514.2 908.8h15.2v15.2h-15.2zM517.2 909.3h15.2v15.2h-15.2zM518.8 909.5h15.2v15.2h-15.2zM521.8 909.3h15.2v15.2h-15.2zM524.8 911.1h15.2v15.2h-15.2zM527.3 908.3h15.2v15.2h-15.2zM529.8 908.7h15.2v15.2h-15.2zM532.9 908.4h15.2v15.2h-15.2zM535.7 906.7h15.2v15.2h-15.2zM537.4 906.9h15.2v15.2h-15.2zM540.4 905.5h15.2v15.2h-15.2zM543.1 902.4h15.2v15.2h-15.2zM544.6 901.8h15.2v15.2h-15.2zM547.5 901h15.2v15.2h-15.2zM550.4 898.4h15.2v15.2h-15.2zM552.9 898.1h15.2v15.2h-15.2zM555.3 895.9h15.2v15.2h-15.2zM558.7 893.9h15.2v15.2h-15.2zM562.3 894h15.2v15.2h-15.2zM563.7 892h15.2v15.2h-15.2zM566.9 893.1h15.2v15.2h-15.2zM569.3 890.6h15.2v15.2h-15.2zM571.2 892.3h15.2v15.2h-15.2zM573 890.2h15.2v15.2h-15.2zM574.7 888.9h15.2v15.2h-15.2zM578.2 884.8h15.2v15.2h-15.2zM581.5 884h15.2v15.2h-15.2zM584.8 883.6h15.2v15.2h-15.2zM586.7 883.6h15.2v15.2h-15.2zM589.2 879.6h15.2v15.2h-15.2zM590.6 880.2h15.2v15.2h-15.2zM593 877.8h15.2v15.2h-15.2zM594.7 876.6h15.2v15.2h-15.2zM596.7 876.7h15.2v15.2h-15.2zM598.1 875.6h15.2v15.2h-15.2zM601.4 872.5h15.2v15.2h-15.2zM604.8 872.9h15.2v15.2h-15.2zM608.2 868.6h15.2v15.2h-15.2zM610.5 866.6h15.2v15.2h-15.2zM614.1 863.8h15.2v15.2h-15.2zM616.3 861.8h15.2v15.2h-15.2zM618.3 859.5h15.2v15.2h-15.2zM619.9 861h15.2v15.2h-15.2zM621.9 859.9h15.2v15.2h-15.2zM623.8 856.1h15.2v15.2h-15.2zM626.3 853.3h15.2v15.2h-15.2zM628.6 853.8h15.2v15.2h-15.2zM631.9 851.4h15.2v15.2h-15.2zM634.7 851.1h15.2v15.2h-15.2zM638.2 849h15.2v15.2h-15.2zM641.2 845.6h15.2v15.2h-15.2zM644.2 844.3h15.2v15.2h-15.2zM647.3 841.8h15.2v15.2h-15.2zM649.3 838.2h15.2v15.2h-15.2zM652.8 835.6h15.2v15.2h-15.2zM655.2 833.8h15.2v15.2h-15.2zM657.3 832.4h15.2v15.2h-15.2zM660.8 825.7h15.2v15.2h-15.2zM663.7 822.2h15.2v15.2h-15.2zM666.3 820.2h15.2v15.2h-15.2zM668.1 818.4h15.2v15.2h-15.2zM669.9 819.7h15.2v15.2h-15.2zM672.4 815.8h15.2v15.2h-15.2zM675.8 815.4h15.2v15.2h-15.2zM678.2 810.4h15.2v15.2h-15.2zM680 808.8h15.2v15.2h-15.2zM682.2 807.5h15.2v15.2h-15.2zM684.1 807.1h15.2v15.2h-15.2zM686.7 807.7h15.2v15.2h-15.2zM689.8 803.5h15.2v15.2h-15.2zM692.1 801h15.2v15.2h-15.2zM694.3 797.4h15.2v15.2h-15.2zM695.8 795.2h15.2v15.2h-15.2zM699.4 790.8h15.2v15.2h-15.2zM701.9 790.3h15.2v15.2h-15.2zM705.2 786.1h15.2v15.2h-15.2zM707.2 784.1h15.2v15.2h-15.2zM709.5 782.1h15.2v15.2h-15.2zM713 779.7h15.2v15.2h-15.2zM716.3 774.7h15.2v15.2h-15.2zM717.8 776.2h15.2v15.2h-15.2zM721.2 773.8h15.2v15.2h-15.2zM723.9 770.2h15.2v15.2h-15.2zM726.1 770.7h15.2v15.2h-15.2zM729.3 766.8h15.2v15.2h-15.2zM732.9 761.6h15.2v15.2h-15.2zM734.5 760.1h15.2v15.2h-15.2zM737.1 759.9h15.2v15.2h-15.2zM740.6 756.7h15.2v15.2h-15.2zM743.4 753.5h15.2v15.2h-15.2zM745.8 750h15.2v15.2h-15.2zM747.3 749.3h15.2v15.2h-15.2zM749.2 748.3h15.2v15.2h-15.2zM752 744.8h15.2v15.2h-15.2zM753.7 743.7h15.2v15.2h-15.2zM756.5 743.1h15.2v15.2h-15.2zM758.1 739.5h15.2v15.2h-15.2zM760.7 738.2h15.2v15.2h-15.2zM762.9 734.5h15.2v15.2h-15.2zM765.6 731.1h15.2v15.2h-15.2zM767.7 731h15.2v15.2h-15.2zM771.2 728.9h15.2v15.2h-15.2zM774.6 724.8h15.2v15.2h-15.2zM776.5 721.7h15.2v15.2h-15.2zM780 719.1h15.2v15.2h-15.2zM782.1 715.3h15.2v15.2h-15.2zM784.6 716h15.2v15.2h-15.2zM786.9 713.7h15.2v15.2h-15.2zM789.8 714.1h15.2v15.2h-15.2zM791.7 709.7h15.2v15.2h-15.2zM793.8 708.9h15.2v15.2h-15.2zM796.7 705.3h15.2v15.2h-15.2zM799.9 704.5h15.2v15.2h-15.2zM802.4 701h15.2v15.2h-15.2zM805.9 698.2h15.2v15.2h-15.2zM809.2 693.8h15.2v15.2h-15.2zM811 692.8h15.2v15.2h-15.2zM813.1 690.6h15.2v15.2h-15.2zM815.6 685.4h15.2v15.2h-15.2zM817.4 684.6h15.2v15.2h-15.2zM820.3 684.4h15.2v15.2h-15.2zM822 681.5h15.2v15.2h-15.2zM823.9 682h15.2v15.2h-15.2zM825.6 677.5h15.2v15.2h-15.2zM827.1 677.2h15.2v15.2h-15.2zM830.5 675.9h15.2v15.2h-15.2zM833.5 674.7h15.2v15.2h-15.2zM837 671.2h15.2v15.2h-15.2zM838.8 672h15.2v15.2h-15.2zM841.8 666.3h15.2v15.2h-15.2zM844.7 664.1h15.2v15.2h-15.2zM846.9 661.3h15.2v15.2h-15.2zM848.7 658.5h15.2v15.2h-15.2zM850.7 657.9h15.2v15.2h-15.2zM854.2 654.6h15.2v15.2h-15.2zM857.7 651.6h15.2v15.2h-15.2zM859.9 651.2h15.2v15.2h-15.2zM863.1 646.6h15.2v15.2h-15.2zM864.6 645.5h15.2v15.2h-15.2zM866.8 645.8h15.2v15.2h-15.2zM868.6 643.4h15.2v15.2h-15.2zM872 641.2h15.2v15.2h-15.2zM874.3 642.3h15.2v15.2h-15.2zM877.4 637.2h15.2v15.2h-15.2zM878.9 635.8h15.2v15.2h-15.2zM882.3 633.6h15.2v15.2h-15.2zM885.4 633.8h15.2v15.2h-15.2zM887.5 630.5h15.2v15.2h-15.2zM891.1 628.7h15.2v15.2h-15.2zM893 626.9h15.2v15.2h-15.2zM895.1 623h15.2v15.2h-15.2zM896.5 623.1h15.2v15.2h-15.2zM899.9 620h15.2v15.2h-15.2zM903.4 616.4h15.2v15.2h-15.2zM905.3 616.9h15.2v15.2h-15.2zM908.9 615.8h15.2v15.2h-15.2zM911.1 611.2h15.2v15.2h-15.2zM913.4 609.7h15.2v15.2h-15.2zM916.9 605.9h15.2v15.2h-15.2zM920.1 605.8h15.2v15.2h-15.2zM923.3 603.5h15.2v15.2h-15.2zM926.1 599.2h15.2v15.2h-15.2zM928.1 596.8h15.2v15.2h-15.2zM931.3 592.6h15.2v15.2h-15.2zM933.1 593.4h15.2v15.2h-15.2zM935 590.2h15.2v15.2h-15.2zM936.5 591.2h15.2v15.2h-15.2zM938.6 591.7h15.2v15.2h-15.2zM942 589.5h15.2v15.2h-15.2zM943.9 584.9h15.2v15.2h-15.2zM945.5 584.8h15.2v15.2h-15.2zM948.5 582.2h15.2v15.2h-15.2zM950.4 580.9h15.2v15.2h-15.2zM953.2 580.3h15.2v15.2h-15.2zM956.2 578.8h15.2v15.2h-15.2zM959.1 573.4h15.2v15.2h-15.2zM962.4 569.6h15.2v15.2h-15.2zM965 566.7h15.2v15.2h-15.2zM968 563.5h15.2v15.2h-15.2zM970 562.3h15.2v15.2h-15.2zM971.7 563.3h15.2v15.2h-15.2zM974.4 559.5h15.2v15.2h-15.2zM976.6 559.7h15.2v15.2h-15.2zM979.2 554.9h15.2v15.2h-15.2zM982.3 554.1h15.2v15.2h-15.2zM986 551.2h15.2v15.2h-15.2zM988.4 552.7h15.2v15.2h-15.2zM991.7 550.9h15.2v15.2h-15.2zM993.1 547.5h15.2v15.2h-15.2zM994.8 545.3h15.2v15.2h-15.2zM998.3 542.6h15.2v15.2h-15.2zM1001.8 538.8h15.2v15.2h-15.2zM1005.1 536.3h15.2v15.2h-15.2zM1007.1 535.5h15.2v15.2h-15.2zM1010.6 529.2h15.2v15.2h-15.2zM1013.3 527.7h15.2v15.2h-15.2zM1015.2 525.1h15.2v15.2h-15.2zM1016.9 523.4h15.2v15.2h-15.2zM1018.8 523.8h15.2v15.2h-15.2zM1021.7 521.5h15.2v15.2h-15.2zM1023.1 521.2h15.2v15.2h-15.2zM1026 518.8h15.2v15.2h-15.2zM1028 517h15.2v15.2h-15.2zM1031.2 515.3h15.2v15.2h-15.2zM1032.7 512.7h15.2v15.2h-15.2zM1035 512.7h15.2v15.2h-15.2zM1037.8 509.6h15.2v15.2h-15.2zM1039.5 510.3h15.2v15.2h-15.2zM1041.8 506.8h15.2v15.2h-15.2zM1043.9 506.5h15.2v15.2h-15.2zM1046 502.7h15.2v15.2h-15.2zM1048.2 499.7h15.2v15.2h-15.2zM1051.5 498.9h15.2v15.2h-15.2zM1053.7 495.2h15.2v15.2h-15.2zM1056.7 493.4h15.2v15.2h-15.2zM1058.1 494.6h15.2v15.2h-15.2zM1060.4 492.1h15.2v15.2h-15.2zM1062.7 489.9h15.2v15.2h-15.2zM1065.1 485.3h15.2v15.2h-15.2zM1066.5 485.4h15.2v15.2h-15.2zM1069.3 484.9h15.2v15.2h-15.2zM1070.9 483h15.2v15.2h-15.2zM1073.1 481.1h15.2v15.2h-15.2zM1074.8 478.9h15.2v15.2h-15.2zM1077.4 478h15.2v15.2h-15.2zM1079 474.6h15.2v15.2h-15.2zM1082.2 472.3h15.2v15.2h-15.2zM1084 467.8h15.2v15.2h-15.2zM1087.5 467.9h15.2v15.2h-15.2zM1089.9 463.1h15.2v15.2h-15.2zM1093.4 460.7h15.2v15.2h-15.2zM1096.8 457.6h15.2v15.2h-15.2zM1100 453h15.2v15.2h-15.2zM1103.2 451h15.2v15.2h-15.2zM1105.5 451.3h15.2v15.2h-15.2zM1108.7 445h15.2v15.2h-15.2zM1110.6 442.7h15.2v15.2h-15.2zM1113.1 438.3h15.2v15.2h-15.2zM1114.8 435.1h15.2v15.2h-15.2zM1117.8 432.6h15.2v15.2h-15.2zM1119.2 429.1h15.2v15.2h-15.2zM1122.3 422.5h15.2v15.2h-15.2zM1125.6 418.1h15.2v15.2h-15.2zM1128.3 416.6h15.2v15.2h-15.2zM1131.1 413.1h15.2v15.2h-15.2zM1133.4 412.9h15.2v15.2h-15.2zM1135.7 413.4h15.2v15.2h-15.2zM1138.1 413.2h15.2v15.2h-15.2zM1139.6 413.9h15.2v15.2h-15.2zM1142 412.3h15.2v15.2h-15.2zM1145.1 412.6h15.2v15.2h-15.2zM1147.5 409.2h15.2v15.2h-15.2zM1150 407.6h15.2v15.2h-15.2zM1151.6 408h15.2v15.2h-15.2zM1153.2 407.6h15.2v15.2h-15.2zM1155.7 405.4h15.2v15.2h-15.2zM1158.5 404h15.2v15.2h-15.2zM1161.6 403.8h15.2v15.2h-15.2zM1164.1 399.5h15.2v15.2h-15.2zM1166.6 399.2h15.2v15.2h-15.2zM1170.1 398.2h15.2v15.2h-15.2zM1173.4 401.6h15.2v15.2h-15.2zM1176.4 401h15.2v15.2h-15.2zM1178.3 401.1h15.2v15.2h-15.2zM1180.7 400.4h15.2v15.2h-15.2zM1184.2 397.6h15.2v15.2h-15.2zM1187.3 400.4h15.2v15.2h-15.2zM1188.8 398.6h15.2v15.2h-15.2zM1191.9 397.5h15.2v15.2h-15.2zM1195.3 396h15.2v15.2h-15.2zM1198.5 393.9h15.2v15.2h-15.2zM1201 395.8h15.2v15.2h-15.2zM1202.9 393.7h15.2v15.2h-15.2zM1205.4 394.2h15.2v15.2h-15.2zM1206.8 393.8h15.2v15.2h-15.2zM1208.6 396.2h15.2v15.2h-15.2zM1211.5 395.3h15.2v15.2h-15.2zM1213.2 394.5h15.2v15.2h-15.2zM1214.9 393.3h15.2v15.2h-15.2zM1217.7 392.7h15.2v15.2h-15.2zM1221 394.3h15.2v15.2h-15.2zM1223.7 396.3h15.2v15.2h-15.2zM1225.3 396.8h15.2v15.2h-15.2zM1228.1 394.5h15.2v15.2h-15.2zM1231.3 393.3h15.2v15.2h-15.2zM1234.9 394.3h15.2v15.2h-15.2zM1237.1 395.6h15.2v15.2h-15.2zM1239.4 394.5h15.2v15.2h-15.2zM1242.5 394.7h15.2v15.2h-15.2zM1245.7 395.2h15.2v15.2h-15.2zM1248.5 397.7h15.2v15.2h-15.2zM1251.2 397.4h15.2v15.2h-15.2zM1253.3 396.3h15.2v15.2h-15.2zM1254.7 397.6h15.2v15.2h-15.2zM1257.5 399.6h15.2v15.2h-15.2zM1260 401.3h15.2v15.2h-15.2zM1261.7 398.8h15.2v15.2h-15.2zM1264.5 397.4h15.2v15.2h-15.2zM1265.9 398.2h15.2v15.2h-15.2zM1267.5 398.2h15.2v15.2h-15.2zM1269.4 399.1h15.2v15.2h-15.2zM1272.1 398.9h15.2v15.2h-15.2zM1274.9 400.8h15.2v15.2h-15.2zM1276.6 402.6h15.2v15.2h-15.2zM1278.5 400.2h15.2v15.2h-15.2zM1280.1 401.9h15.2v15.2h-15.2zM1283.4 403.5h15.2v15.2h-15.2zM1285.7 403.4h15.2v15.2h-15.2zM1287.1 405.8h15.2v15.2h-15.2zM1289.7 407.2h15.2v15.2h-15.2zM1292.6 409.4h15.2v15.2h-15.2zM1296.1 411.3h15.2v15.2h-15.2zM1298 412h15.2v15.2h-15.2zM1299.5 411h15.2v15.2h-15.2zM1301.8 410.5h15.2v15.2h-15.2zM1303.3 412.9h15.2v15.2h-15.2zM1304.7 412.6h15.2v15.2h-15.2zM1308.2 411.8h15.2v15.2h-15.2zM1310 413.3h15.2v15.2h-15.2zM1312.5 412.8h15.2v15.2h-15.2zM1315.7 410.3h15.2v15.2h-15.2zM1317.8 411h15.2v15.2h-15.2zM1319.3 413.9h15.2v15.2h-15.2zM1322.4 415.3h15.2v15.2h-15.2zM1323.8 417h15.2v15.2h-15.2zM1326.8 417.5h15.2v15.2h-15.2zM1329.9 419h15.2v15.2h-15.2zM1331.8 418.4h15.2v15.2h-15.2zM1333.7 419.3h15.2v15.2h-15.2zM1335.8 424.2h15.2v15.2h-15.2zM1338.7 427.3h15.2v15.2h-15.2zM1341.7 426.6h15.2v15.2h-15.2zM1344.3 428.3h15.2v15.2h-15.2zM1347.5 428.8h15.2v15.2h-15.2zM1349.4 429.6h15.2v15.2h-15.2zM1353 428.7h15.2v15.2h-15.2zM1356.3 429.6h15.2v15.2h-15.2zM1358.3 431.7h15.2v15.2h-15.2zM1361.4 436.4h15.2v15.2h-15.2zM1364.4 433.8h15.2v15.2h-15.2zM1367.8 435.3h15.2v15.2h-15.2zM1369.7 439.9h15.2v15.2h-15.2zM1372.5 441.3h15.2v15.2h-15.2zM1375.3 445.5h15.2v15.2h-15.2zM1377.8 446h15.2v15.2h-15.2zM1380.7 447.2h15.2v15.2h-15.2zM1383.1 447.3h15.2v15.2h-15.2zM1385.7 446.5h15.2v15.2h-15.2zM1387.6 449.8h15.2v15.2h-15.2zM1389.1 452.9h15.2v15.2h-15.2zM1390.8 448.9h15.2v15.2h-15.2zM1397.4 453.9h15.2v15.2h-15.2zM1394.7 452.1h15.2v15.2h-15.2zM1400.4 453.9h15.2v15.2h-15.2zM1407.5 459h15.2v15.2h-15.2zM1402.2 458.2h15.2v15.2h-15.2zM1411.9 461h15.2v15.2h-15.2zM1417.6 466.6h15.2v15.2h-15.2zM1414.4 463.9h15.2v15.2h-15.2zM1421.9 467.5h15.2v15.2h-15.2zM1425.2 469.1h15.2v15.2h-15.2zM1422.2 468.6h15.2v15.2h-15.2zM1430.4 469.2h15.2v15.2h-15.2zM1425.2 476.7h15.2v15.2h-15.2zM1422.3 476.5h15.2v15.2h-15.2zM1430.5 476.9h15.2v15.2h-15.2zM1435.3 471.6h15.2v15.2h-15.2zM1430.4 469h15.2v15.2h-15.2zM1437.9 474h15.2v15.2h-15.2zM1445.4 475.4h15.2v15.2h-15.2zM1442.3 474.4h15.2v15.2h-15.2zM1450.4 477.2h15.2v15.2h-15.2zM1455.5 479.2h15.2v15.2h-15.2zM1450.9 476.6h15.2v15.2h-15.2zM1458.3 481.3h15.2v15.2h-15.2zM1460.5 491.8h15.2v15.2h-15.2zM1455.7 489.9h15.2v15.2h-15.2zM1464.3 491.8h15.2v15.2h-15.2zM1468.1 494.3h15.2v15.2h-15.2zM1463.4 492.3h15.2v15.2h-15.2zM1472.8 495.3h15.2v15.2h-15.2zM1475.7 486.7h15.2v15.2h-15.2zM1471.2 486.7h15.2v15.2h-15.2zM1479.7 489.2h15.2v15.2h-15.2zM1480.7 494.3h15.2v15.2h-15.2zM1477.1 491.5h15.2v15.2h-15.2zM1484.5 495.5h15.2v15.2h-15.2zM1488.3 501.9h15.2v15.2h-15.2zM1485.1 500h15.2v15.2h-15.2zM1492.9 503.4h15.2v15.2h-15.2zM1495.9 504.4h15.2v15.2h-15.2zM1491 504.1h15.2v15.2h-15.2zM1498.7 506.8h15.2v15.2h-15.2zM1506 491.8h15.2v15.2h-15.2zM1501 488.9h15.2v15.2h-15.2zM1509.1 494h15.2v15.2h-15.2zM1516.1 491.8h15.2v15.2h-15.2zM1513.5 488.9h15.2v15.2h-15.2zM1520 493.2h15.2v15.2h-15.2zM1526.2 494.3h15.2v15.2h-15.2zM1523.1 492h15.2v15.2h-15.2zM1530.2 495.3h15.2v15.2h-15.2zM1533.7 491.8h15.2v15.2h-15.2zM1530.7 489.7h15.2v15.2h-15.2zM1539.1 492.5h15.2v15.2h-15.2zM1523.6 509.5h15.2v15.2h-15.2zM1518.8 508.7h15.2v15.2h-15.2zM1527.6 509.7h15.2v15.2h-15.2zM1533.7 514.5h15.2v15.2h-15.2zM1530.2 511.9h15.2v15.2h-15.2zM1538.6 516.5h15.2v15.2h-15.2zM1543.8 518.3h15.2v15.2h-15.2zM1540.7 517.3h15.2v15.2h-15.2zM1547.4 519.4h15.2v15.2h-15.2zM1553.9 500.6h15.2v15.2h-15.2zM1549.6 500.4h15.2v15.2h-15.2zM1556.7 503.2h15.2v15.2h-15.2zM1564 503.2h15.2v15.2h-15.2zM1558.6 500.9h15.2v15.2h-15.2zM1567.3 505.8h15.2v15.2h-15.2zM1569.1 512h15.2v15.2h-15.2zM1565.1 510.2h15.2v15.2h-15.2zM1574.2 512.6h15.2v15.2h-15.2zM1576.7 509.5h15.2v15.2h-15.2zM1572.5 508.2h15.2v15.2h-15.2zM1581.4 511.6h15.2v15.2h-15.2zM1569.1 522.1h15.2v15.2h-15.2zM1565.5 520.2h15.2v15.2h-15.2zM1572.6 522.4h15.2v15.2h-15.2zM1596.8 508.2h15.2v15.2h-15.2zM1593.9 507.3h15.2v15.2h-15.2zM1601.6 508.6h15.2v15.2h-15.2zM1582.5 526.5h15.2v15.2h-15.2zM1578.3 526h15.2v15.2h-15.2zM1586.7 526.8h15.2v15.2h-15.2zM1598.6 531.6h15.2v15.2h-15.2zM1594.5 531.3h15.2v15.2h-15.2zM1601.9 532.1h15.2v15.2h-15.2zM1612.8 534.6h15.2v15.2h-15.2zM1608.2 533.8h15.2v15.2h-15.2zM1617.8 535h15.2v15.2h-15.2zM1633 518.5h15.2v15.2h-15.2zM1627.9 516.3h15.2v15.2h-15.2zM1636.5 519.9h15.2v15.2h-15.2zM1643.1 518.5h15.2v15.2h-15.2zM1638.1 516.5h15.2v15.2h-15.2zM1646.1 521.3h15.2v15.2h-15.2zM1666.3 527.5h15.2v15.2h-15.2zM1663 524.9h15.2v15.2h-15.2zM1671.7 527.7h15.2v15.2h-15.2zM1679.4 534.6h15.2v15.2h-15.2zM1675.1 534.7h15.2v15.2h-15.2zM1684.3 536.7h15.2v15.2h-15.2zM1649.1 542.7h15.2v15.2h-15.2zM1644.9 540.4h15.2v15.2h-15.2zM1653.5 542.9h15.2v15.2h-15.2zM1667.3 550.8h15.2v15.2h-15.2zM1662.4 549h15.2v15.2h-15.2zM1669.9 551.9h15.2v15.2h-15.2zM1675.4 552.8h15.2v15.2h-15.2zM1672.3 552h15.2v15.2h-15.2zM1679.4 554.6h15.2v15.2h-15.2zM1693.6 560.9h15.2v15.2h-15.2zM1689.4 558.4h15.2v15.2h-15.2zM1697.9 562h15.2v15.2h-15.2zM1709.7 545.7h15.2v15.2h-15.2zM1706.4 545.5h15.2v15.2h-15.2zM1713.5 547.3h15.2v15.2h-15.2zM1723.8 547.7h15.2v15.2h-15.2zM1720.6 546.1h15.2v15.2h-15.2zM1727 549.8h15.2v15.2h-15.2zM1727.9 558.8h15.2v15.2h-15.2zM1725 558.3h15.2v15.2h-15.2zM1732.5 561.3h15.2v15.2h-15.2zM1736 558.8h15.2v15.2h-15.2zM1732.5 557.9h15.2v15.2h-15.2zM1739.8 559.7h15.2v15.2h-15.2zM1744 589.1h15.2v15.2h-15.2zM1740.4 586.5h15.2v15.2h-15.2zM1747.8 591.4h15.2v15.2h-15.2zM1752.1 587.1h15.2v15.2h-15.2zM1748.7 586.1h15.2v15.2h-15.2zM1755.4 588.3h15.2v15.2h-15.2zM1754.1 599.2h15.2v15.2h-15.2zM1750 598.2h15.2v15.2h-15.2zM1757.9 601.2h15.2v15.2h-15.2zM1766.2 607.3h15.2v15.2h-15.2zM1763.5 605h15.2v15.2h-15.2zM1770.7 609.5h15.2v15.2h-15.2zM1778.4 603.3h15.2v15.2h-15.2zM1774 601.8h15.2v15.2h-15.2zM1783.8 603.3h15.2v15.2h-15.2zM1782.4 609.3h15.2v15.2h-15.2zM1778.5 606.9h15.2v15.2h-15.2zM1787.2 612h15.2v15.2h-15.2zM1782.4 621.4h15.2v15.2h-15.2zM1778.5 618.8h15.2v15.2h-15.2zM1786.6 623h15.2v15.2h-15.2zM1772.3 613.4h15.2v15.2h-15.2zM1769 612h15.2v15.2h-15.2zM1776.7 615.7h15.2v15.2h-15.2z"/>
<path fill="#86ba45" d="M674.5 483.8l8.8 16.5h-17.5zM674.8 479.8l8.8 16.5h-17.5zM675.2 475.8l8.8 16.5h-17.5zM676 471.8l8.8 16.5h-17.5zM677.5 468.2l8.8 16.5h-17.5zM680 465.8l8.8 16.5h-17.5zM683 464.8l8.8 16.5h-17.5zM686 466l8.8 16.5h-17.5zM688.1 467.2l8.8 16.5h-17.5zM689.9 466.5l8.8 16.5h-17.5zM692.5 464l8.8 16.5h-17.5zM695.6 462.4l8.8 16.5h-17.5zM698.4 461.7l8.8 16.5h-17.5zM700.3 462.6l8.8 16.5h-17.5zM704.2 461.1l8.8 16.5h-17.5zM706.4 461.8l8.8 16.5h-17.5zM710.6 459.4l8.8 16.5h-17.5zM713.3 459.6l8.8 16.5h-17.5zM715.1 459.1l8.8 16.5h-17.5zM717.5 457.2l8.8 16.5h-17.5zM719.5 458.1l8.8 16.5h-17.5zM723.4 457.5l8.8 16.5h-17.5zM726.6 457.7l8.8 16.5h-17.5zM729.2 456.5l8.8 16.5h-17.5zM731.1 454.6l8.8 16.5h-17.5zM733.3 456.4l8.8 16.5h-17.5zM736.1 455.2l8.8 16.5h-17.5zM739.3 454.7l8.8 16.5h-17.5zM741.8 454.4l8.8 16.5h-17.5zM745.3 450.5l8.8 16.5h-17.5zM748.5 450.3l8.8 16.5h-17.5zM752.5 450.7l8.8 16.5h-17.5zM754.9 451.1l8.8 16.5h-17.5zM756.9 448.8l8.8 16.5h-17.5zM760.6 446.2l8.8 16.5h-17.5zM763.6 444.9l8.8 16.5h-17.5zM767 447l8.8 16.5h-17.5zM770.2 447.2l8.8 16.5h-17.5zM772.7 445.9l8.8 16.5h-17.5zM776 443.6l8.8 16.5h-17.5zM778.9 442.5l8.8 16.5h-17.5zM783.1 440l8.8 16.5h-17.5zM786.5 438.1l8.8 16.5h-17.5zM790.1 438.3l8.8 16.5h-17.5zM794.4 436.4l8.8 16.5h-17.5zM796.8 434.3l8.8 16.5h-17.5zM800.3 433.4l8.8 16.5h-17.5zM803.2 434l8.8 16.5h-17.5zM805.1 433.3l8.8 16.5h-17.5zM808.8 431.7l8.8 16.5h-17.5zM811.2 431.3l8.8 16.5h-17.5zM815.2 429.1l8.8 16.5h-17.5zM818 430l8.8 16.5h-17.5zM822.1 429.1l8.8 16.5h-17.5zM826 424l8.8 16.5h-17.5zM828.8 422l8.8 16.5h-17.5zM832.9 421.7l8.8 16.5h-17.5zM834.9 418.6l8.8 16.5h-17.5zM837.2 417.8l8.8 16.5h-17.5zM840.1 417l8.8 16.5h-17.5zM842.5 413.5l8.8 16.5h-17.5zM845.3 412.9l8.8 16.5h-17.5zM848.5 413.8l8.8 16.5h-17.5zM852 412.2l8.8 16.5h-17.5zM855.3 411.4l8.8 16.5h-17.5zM857.1 411l8.8 16.5h-17.5zM860.9 408.1l8.8 16.5h-17.5zM864.7 404.7l8.8 16.5h-17.5zM867.4 403l8.8 16.5h-17.5zM870.7 401.3l8.8 16.5h-17.5zM872.6 400.4l8.8 16.5h-17.5zM874.7 399l8.8 16.5h-17.5zM876.5 396.5l8.8 16.5h-17.5zM878.5 395.3l8.8 16.5h-17.5zM881.1 393.9l8.8 16.5h-17.5zM885.2 394.8l8.8 16.5h-17.5zM887.2 393.1l8.8 16.5h-17.5zM889.8 392l8.8 16.5h-17.5zM891.8 392.2l8.8 16.5h-17.5zM896.1 388.7l8.8 16.5h-17.5zM899.1 386.8l8.8 16.5h-17.5zM901 387.1l8.8 16.5h-17.5zM903.4 387.4l8.8 16.5h-17.5zM905.5 382.9l8.8 16.5h-17.5zM909.8 378.9l8.8 16.5h-17.5zM912 376.5l8.8 16.5h-17.5zM913.8 374.7l8.8 16.5h-17.5zM918.4 372l8.8 16.5h-17.5zM922.2 366.4l8.8 16.5h-17.5zM925.2 362.6l8.8 16.5h-17.5zM929.4 359.8l8.8 16.5h-17.5zM933.7 357.1l8.8 16.5h-17.5zM936.3 357.2l8.8 16.5h-17.5zM941.4 353l8.8 16.5h-17.5zM946 348.9l8.8 16.5h-17.5zM950.5 344.4l8.8 16.5h-17.5zM954.3 341.6l8.8 16.5h-17.5zM956.5 338.2l8.8 16.5h-17.5zM959.6 335.2l8.8 16.5h-17.5zM964.2 333.2l8.8 16.5h-17.5zM968 330.7l8.8 16.5h-17.5zM973.7 322.4l8.8 16.5h-17.5zM977.3 314.7l8.8 16.5h-17.5zM980.5 310.9l8.8 16.5h-17.5zM983.6 309.1l8.8 16.5h-17.5zM989.4 301.3l8.8 16.5h-17.5zM993.6 292.2l8.8 16.5h-17.5zM999.2 281.2l8.8 16.5h-17.5zM1004.3 277.6l8.8 16.5h-17.5zM1010 269.7l8.8 16.5h-17.5zM1014.4 264.2l8.8 16.5h-17.5zM1020.1 260.7l8.8 16.5h-17.5zM1025.8 256.5l8.8 16.5h-17.5zM1029.9 251.6l8.8 16.5h-17.5zM1036.2 248l8.8 16.5h-17.5zM1039.3 242.3l8.8 16.5h-17.5zM1042.4 240.4l8.8 16.5h-17.5zM1048.2 232.2l8.8 16.5h-17.5zM1054 229.7l8.8 16.5h-17.5zM1059.1 222.5l8.8 16.5h-17.5zM1063.8 219l8.8 16.5h-17.5zM1066.4 220.7l8.8 16.5h-17.5zM1071.5 216.3l8.8 16.5h-17.5zM1077.7 211l8.8 16.5h-17.5zM1083.7 209.6l8.8 16.5h-17.5zM1087.1 205.5l8.8 16.5h-17.5zM1090.7 201.8l8.8 16.5h-17.5zM1095.6 198l8.8 16.5h-17.5zM1099.7 195.9l8.8 16.5h-17.5zM1105.9 193.3l8.8 16.5h-17.5zM1110.2 191.6l8.8 16.5h-17.5zM1116.4 190l8.8 16.5h-17.5zM1122.6 186.7l8.8 16.5h-17.5zM1127.2 183.4l8.8 16.5h-17.5zM1129.7 182.6l8.8 16.5h-17.5zM1133 180.9l8.8 16.5h-17.5zM1138.7 179.1l8.8 16.5h-17.5zM1143.1 178.8l8.8 16.5h-17.5zM1147.8 178l8.8 16.5h-17.5zM1152.4 179.3l8.8 16.5h-17.5zM1158 177.8l8.8 16.5h-17.5zM1162.8 179.1l8.8 16.5h-17.5zM1166.4 181.7l8.8 16.5h-17.5zM1170.9 180.5l8.8 16.5h-17.5zM1176.4 179.5l8.8 16.5h-17.5zM1180.7 178.7l8.8 16.5h-17.5zM1185.2 178.4l8.8 16.5h-17.5zM1190.5 176.9l8.8 16.5h-17.5zM1195.1 177.2l8.8 16.5h-17.5zM1201.4 179.7l8.8 16.5h-17.5zM1202.5 178.7l8.8 16.5h-17.5zM1209.9 180.9l8.8 16.5h-17.5zM1217.4 184l8.8 16.5h-17.5zM1225.2 186.5l8.8 16.5h-17.5zM1232.3 189.6l8.8 16.5h-17.5zM1239 193.2l8.8 16.5h-17.5zM1245.6 197.6l8.8 16.5h-17.5zM1252.2 202.5l8.8 16.5h-17.5zM1258.8 206.7l8.8 16.5h-17.5zM1264.2 212.7l8.8 16.5h-17.5zM1269.2 218.7l8.8 16.5h-17.5zM1275.6 224l8.8 16.5h-17.5zM1282.7 227.6l8.8 16.5h-17.5zM1290.6 226.7l8.8 16.5h-17.5zM1294.4 232.6l8.8 16.5h-17.5zM1297.9 240.5l8.8 16.5h-17.5zM1302.7 246.6l8.8 16.5h-17.5zM1308.7 251.3l8.8 16.5h-17.5zM1315.4 249.6l8.8 16.5h-17.5zM1319.5 252.8l8.8 16.5h-17.5zM1322 259.5l8.8 16.5h-17.5zM1325.6 267.2l8.8 16.5h-17.5zM1332 271.3l8.8 16.5h-17.5zM1338.8 275.6l8.8 16.5h-17.5zM1345 275.6l8.8 16.5h-17.5zM1350.3 271.9l8.8 16.5h-17.5zM1355.9 276.8l8.8 16.5h-17.5zM1360.6 283.5l8.8 16.5h-17.5zM1362.8 286.8l8.8 16.5h-17.5zM1367.8 304.2l8.8 16.5h-17.5zM1373.5 309.6l8.8 16.5h-17.5zM1378.5 307.1l8.8 16.5h-17.5zM1383.2 302.9l8.8 16.5h-17.5zM1388.5 308l8.8 16.5h-17.5zM1394.7 313.8l8.8 16.5h-17.5zM1395.6 314.4l8.8 16.5h-17.5zM1407 336.6l8.8 16.5h-17.5zM1412.6 331.2l8.8 16.5h-17.5zM1417.7 336.3l8.8 16.5h-17.5zM1419.6 338.5l8.8 16.5h-17.5zM1437.2 348l8.8 16.5h-17.5zM1443.6 353.9l8.8 16.5h-17.5zM1447.3 356.4l8.8 16.5h-17.5zM1407.6 334.7l8.8 16.5h-17.5zM1412.5 335.9l8.8 16.5h-17.5zM1417.7 332.1l8.8 16.5h-17.5zM1420.5 333.2l8.8 16.5h-17.5zM1427.8 362.4l8.8 16.5h-17.5zM1432.1 364.2l8.8 16.5h-17.5zM1437.9 348.5l8.8 16.5h-17.5zM1440.2 350.8l8.8 16.5h-17.5zM1450.5 359.9l8.8 16.5h-17.5zM1455.2 363.3l8.8 16.5h-17.5zM1459.3 364.9l8.8 16.5h-17.5zM1462.1 366.3l8.8 16.5h-17.5zM1444.2 375l8.8 16.5h-17.5zM1448.9 377.7l8.8 16.5h-17.5zM1468.1 392.7l8.8 16.5h-17.5zM1472.2 393.9l8.8 16.5h-17.5zM1488.3 388.9l8.8 16.5h-17.5zM1490.5 391.9l8.8 16.5h-17.5zM1478.2 405.3l8.8 16.5h-17.5zM1481.5 406.5l8.8 16.5h-17.5zM1501 402.8l8.8 16.5h-17.5zM1505.8 405.7l8.8 16.5h-17.5zM1511.1 410.4l8.8 16.5h-17.5zM1515.5 411.6l8.8 16.5h-17.5zM1499.7 423l8.8 16.5h-17.5zM1504.3 424.1l8.8 16.5h-17.5zM1523.7 419.2l8.8 16.5h-17.5zM1528.3 421.5l8.8 16.5h-17.5zM1532.5 449.5l8.8 16.5h-17.5zM1535.5 452.1l8.8 16.5h-17.5zM1541.3 458.3l8.8 16.5h-17.5zM1546.1 460.1l8.8 16.5h-17.5zM1551.4 463.4l8.8 16.5h-17.5zM1553.8 465.9l8.8 16.5h-17.5zM1561.5 445.7l8.8 16.5h-17.5zM1564.2 447l8.8 16.5h-17.5zM1569.1 478.5l8.8 16.5h-17.5zM1571.6 479.6l8.8 16.5h-17.5zM1576.7 486.1l8.8 16.5h-17.5zM1579.3 488l8.8 16.5h-17.5zM1583 493.7l8.8 16.5h-17.5zM1585.9 496.9l8.8 16.5h-17.5zM1591.8 469.7l8.8 16.5h-17.5zM1594.7 472.1l8.8 16.5h-17.5zM1601.9 476l8.8 16.5h-17.5zM1604.5 478l8.8 16.5h-17.5zM1608.2 479.8l8.8 16.5h-17.5zM1610.3 481.5l8.8 16.5h-17.5zM1634.7 500l8.8 16.5h-17.5zM1636.8 503.1l8.8 16.5h-17.5zM1619.4 519.8l8.8 16.5h-17.5zM1623 521.3l8.8 16.5h-17.5zM1626.4 529.9l8.8 16.5h-17.5zM1629.9 533.7l8.8 16.5h-17.5zM1640.6 537l8.8 16.5h-17.5zM1642.9 540.4l8.8 16.5h-17.5zM1648.7 550.1l8.8 16.5h-17.5zM1651.9 552.5l8.8 16.5h-17.5zM1656.7 554.2l8.8 16.5h-17.5zM1661.2 556.3l8.8 16.5h-17.5zM1665.8 564.2l8.8 16.5h-17.5zM1669.3 567.3l8.8 16.5h-17.5zM1672.9 531.9l8.8 16.5h-17.5zM1677.8 533.9l8.8 16.5h-17.5zM1681 540l8.8 16.5h-17.5zM1685.5 543.1l8.8 16.5h-17.5zM1691.1 548.1l8.8 16.5h-17.5zM1695 550.3l8.8 16.5h-17.5zM1701.2 552.1l8.8 16.5h-17.5zM1704.2 553.2l8.8 16.5h-17.5zM1729.4 582.4l8.8 16.5h-17.5zM1731.8 583.6l8.8 16.5h-17.5zM1733.5 592.5l8.8 16.5h-17.5zM1737.7 594.2l8.8 16.5h-17.5zM1739.5 600.6l8.8 16.5h-17.5zM1742 601.8l8.8 16.5h-17.5zM1707.2 598.6l8.8 16.5h-17.5zM1711.7 602.1l8.8 16.5h-17.5zM1719.3 602.6l8.8 16.5h-17.5zM1723.3 604.4l8.8 16.5h-17.5zM1721.3 610.7l8.8 16.5h-17.5zM1724.1 612.5l8.8 16.5h-17.5zM1749.6 626.8l8.8 16.5h-17.5zM1753 628.3l8.8 16.5h-17.5zM1757.7 634.9l8.8 16.5h-17.5zM1761 636.7l8.8 16.5h-17.5zM1765.8 641l8.8 16.5h-17.5zM1770.7 644.8l8.8 16.5h-17.5zM1765.8 651.1l8.8 16.5h-17.5zM1769.4 652.8l8.8 16.5h-17.5zM1777.9 620.8l8.8 16.5h-17.5zM1782.8 622.7l8.8 16.5h-17.5zM1781.9 630.9l8.8 16.5h-17.5zM1785 631.8l8.8 16.5h-17.5zM1789 667.2l8.8 16.5h-17.5zM1792.1 669.6l8.8 16.5h-17.5zM1794 679.3l8.8 16.5h-17.5zM1797.5 680.9l8.8 16.5h-17.5zM1800.1 685.4l8.8 16.5h-17.5zM1803.6 686.4l8.8 16.5h-17.5zM1810.2 689.4l8.8 16.5h-17.5zM1813 690.7l8.8 16.5h-17.5zM1820.3 687.4l8.8 16.5h-17.5zM1823.5 688.5l8.8 16.5h-17.5zM1830.4 697.5l8.8 16.5h-17.5zM1832.4 699.4l8.8 16.5h-17.5zM1830.4 687.4l8.8 16.5h-17.5zM1833.1 690.1l8.8 16.5h-17.5zM1840.5 677.3l8.8 16.5h-17.5zM1844.1 680.5l8.8 16.5h-17.5zM1848.6 673.3l8.8 16.5h-17.5zM1852.5 676.4l8.8 16.5h-17.5zM1856.6 681.4l8.8 16.5h-17.5zM1861.3 683.5l8.8 16.5h-17.5zM1862.7 687.4l8.8 16.5h-17.5zM1865.7 691.3l8.8 16.5h-17.5zM1862.7 701.6l8.8 16.5h-17.5zM1865.1 704.7l8.8 16.5h-17.5zM1868.7 713.7l8.8 16.5h-17.5zM1872.7 714.7l8.8 16.5h-17.5zM1874.8 689.4l8.8 16.5h-17.5zM1879.3 693.1l8.8 16.5h-17.5zM1882.9 687.4l8.8 16.5h-17.5zM1886.8 690.6l8.8 16.5h-17.5zM1891 679.3l8.8 16.5h-17.5zM1895.4 680.7l8.8 16.5h-17.5zM1899 675.3l8.8 16.5h-17.5zM1902.6 677.8l8.8 16.5h-17.5zM1895 697.5l8.8 16.5h-17.5zM1899.5 700.9l8.8 16.5h-17.5zM1901 705.6l8.8 16.5h-17.5zM1905.5 708.3l8.8 16.5h-17.5zM1907.1 717.7l8.8 16.5h-17.5zM1911.8 720.7l8.8 16.5h-17.5zM1917.2 727.8l8.8 16.5h-17.5zM1921.3 729.4l8.8 16.5h-17.5zM1923.3 729.8l8.8 16.5h-17.5zM1925.4 731.2l8.8 16.5h-17.5zM1913.2 739.9l8.8 16.5h-17.5zM1916.2 741.2l8.8 16.5h-17.5zM1924.3 760.1l8.8 16.5h-17.5zM1928.8 762.7l8.8 16.5h-17.5z"/>
<clipPath id="ic"><rect x="1133.3" y="800" width="565.7" height="376"/></clipPath>
<polyline clip-path="url(#ic)" fill="none" stroke="#7d2da6" stroke-width="12.3" stroke-linejoin="round" stroke-linecap="butt" points="1125,1102 1127,1105.1 1129,1100.3 1131.1,1103.7 1133.1,1098.1 1135,1101.8 1137,1096.3 1138.9,1099.4 1140.9,1093.7 1142.8,1098.6 1144.8,1087.1 1146.7,1100.4 1148.6,1084.9 1150.6,1096.7 1152.5,1082.6 1154.6,1096 1156.6,1081.7 1158.7,1095.1 1160.7,1080.4 1162.8,1092.1 1164.7,1079.6 1166,1088.9 1167.2,1074.8 1168.5,1086.1 1169.8,1070.9 1171,1080.8 1172.3,1072.4 1173.6,1075.4 1174.8,1069 1176.1,1071.4 1177.4,1065.1 1178.9,1067.6 1180.4,1061.1 1181.9,1064.4 1183.4,1058.2 1184.9,1060.9 1186.3,1056 1187.8,1058.8 1189.3,1052.2 1190.8,1054.3 1192.3,1049 1193.8,1051.6 1195.3,1045.2 1196.7,1047.9 1198.2,1042.7 1199.7,1045.9 1201.2,1038.7 1202.7,1041.4 1204.1,1036.1 1205.6,1038.4 1207.1,1032.3 1208.5,1035.6 1210,1028.7 1211.4,1032.6 1212.9,1025.9 1214.4,1029.2 1215.8,1024.2 1217.3,1024 1218.8,1021 1220.2,1020.7 1221.7,1017.7 1223.3,1017.6 1225.2,1015.3 1227,1015.3 1228.9,1013 1230.8,1012.9 1232.6,1010.4 1234.5,1010.5 1236.4,1007.9 1238.2,1008.2 1240.1,1005.8 1242,1005.9 1244,1003.6 1246.1,1004.4 1248.2,1002.6 1250.3,1003.1 1252.4,1001.3 1254.5,1002 1256.6,1000.2 1258.7,1000.6 1260.9,998.8 1263,999.4 1265.1,997.7 1267.2,998.3 1269.3,996.2 1271.4,997 1273.5,995.1 1275.4,995 1277.3,993 1279.2,992.9 1281.2,990.7 1283.1,990.9 1285,988.7 1286.9,988.9 1288.8,986.5 1290.7,986.7 1292.7,984.1 1294.8,985.1 1296.9,983.6 1299.1,984.4 1301.3,982.8 1303.5,983.6 1304.6,980.9 1305.7,980.1 1306.8,976.9 1308,976.4 1309.1,973.1 1310.2,972.5 1311.3,969.2 1312.5,968.7 1313.6,965.6 1314.7,965 1315.9,961.9 1317,961.1 1318.1,958 1319.9,958.6 1322.1,957.4 1324.3,958.9 1326.5,957.7 1328.7,958.9 1330.9,958 1333.1,959.2 1335.3,958.1 1337.5,959.4 1339.7,958.1 1341.9,959.8 1344.1,958.5 1346.3,959.7 1348.5,958.6 1350.7,960.1 1352.9,958.9 1355.1,960.1 1357.3,958.9 1359.5,960.2 1361.7,959.3 1363.9,960.7 1366.1,959.3 1368.3,960.7 1370.5,959.7 1372.7,961 1374.9,959.7 1377.1,961.2 1379.3,959.8 1381.3,962 1383.1,961.9 1384.9,964.2 1386.7,964.5 1388.5,966.9 1390.3,966.9 1392.1,969.2 1394,969.5 1395.8,971.9 1397.6,971.9 1399.4,974.3 1401.2,974.2 1402.9,977 1404.7,977.2 1406.5,979.5 1408.2,979.6 1410,982.1 1411.7,982.3 1413.5,984.7 1415.3,985.1 1417,987.6 1418.8,987.6 1420.5,990.2 1422.3,990.4 1424.1,992.8 1425.8,992.9 1427.5,995.4 1429.3,995.6 1431,998.2 1432.7,998.2 1434.4,1001 1436.1,1001.2 1437.9,1003.6 1439.6,1004 1441.3,1006.6 1443,1006.8 1444.7,1009 1446.5,1009.5 1448.2,1012 1449.9,1012 1451.6,1014.8 1453.2,1014.8 1454.9,1017.5 1456.5,1018.1 1458.2,1020.6 1459.8,1020.9 1461.5,1023.5 1463.2,1023.8 1464.8,1026.2 1466.5,1026.7 1468.1,1029.1 1469.8,1029.3 1471.5,1032.1 1473.4,1032 1475.3,1034.2 1477.2,1034.1 1479.1,1036.2 1481.1,1035 1483,1039.5 1484.9,1037 1486.8,1041.5 1488.7,1039.5 1490.7,1043.5 1492.2,1042.7 1493.6,1047.4 1495,1045.3 1496.4,1050.2 1497.7,1048.7 1499.1,1054.1 1500.5,1052.7 1501.9,1057.3 1503.2,1055.5 1504.6,1060.7 1506,1058.9 1507.7,1063.5 1509.6,1062 1511.4,1066.3 1513.3,1064.5 1515.1,1068.2 1517,1066.2 1518.9,1070.8 1520.7,1068.7 1522.6,1072.9 1524.5,1071.6 1526.3,1075.3 1528.4,1073.6 1530.4,1077.5 1532.5,1074.9 1534.6,1078.5 1536.7,1076.6 1538.7,1079.9 1540.8,1077.7 1542.9,1081.2 1545,1079.5 1547.1,1082.4 1549.1,1080.2 1551.2,1084.1 1553.2,1082.3 1555.2,1085.6 1557.3,1084.1 1559.3,1087.5 1561.3,1086.1 1563.3,1089.7 1565.3,1087.6 1567.3,1091 1569.3,1089.1 1571.3,1092.8 1573.3,1091.3 1575.3,1095.3 1577.3,1093.2 1579.5,1096 1581.7,1092.9 1583.9,1096.8 1586.1,1094.1 1588.3,1096.8 1590.5,1093.9 1592.7,1097.3 1594.8,1094.2 1597,1097.6 1599.2,1094.6 1601.4,1098.3 1603.6,1095.9 1605.7,1099 1607.9,1096.9 1610.1,1100.2 1612.2,1097.6 1614.4,1101.2 1616.5,1098.2 1618.7,1101.6 1620.8,1099.4 1623,1102.7 1625.1,1100.3 1627.3,1103.8 1629.3,1101.7 1631.3,1106.1 1633.2,1102.5 1635.2,1107.7 1637.2,1104.1 1639.2,1109.8 1641.1,1106.2 1643.1,1112 1645.1,1108.7 1647.1,1113.7 1649,1111 1651,1115.3 1653,1111.7 1655.2,1117.5 1657.3,1109.7 1659.5,1116.3 1661.7,1109.3 1663.9,1116.3 1666,1108.9 1668.2,1118.2 1670.4,1107.2 1671.6,1119.7 1672.7,1110.2 1673.8,1122.7 1675,1111.8 1676.1,1127.1 1677.2,1116.9 1678.6,1133.4 1680.7,1118.2 1682.8,1134.2 1684.9,1118.4 1687,1132.8 1689.1,1121.8 1691.2,1134 1693.3,1120.5 1695.4,1139.3 1697.5,1123 1699.6,1139.9 1701.6,1122.1 1703.7,1143.9 1705.7,1125.7 1706,1146.2"/>
<g stroke="#383838" stroke-width="3.5" fill="none" stroke-linejoin="round">
<path d="M282 33.4H1926V1329.6H282Z"/>
<path d="M261 33.4H282M261 357.4H282M261 681.5H282M261 1005.5H282M261 1329.6H282"/>
<path d="M282 1329.6V1346.5M487.5 1329.6V1346.5M693 1329.6V1346.5M898.5 1329.6V1346.5M1104 1329.6V1346.5M1309.5 1329.6V1346.5M1515 1329.6V1346.5M1720.5 1329.6V1346.5M1926 1329.6V1346.5"/>
</g>
<text class="t ty" transform="translate(222.6,51.2) scale(1.17,1)" text-anchor="end">0<tspan dx="1.3">.</tspan><tspan dx="1.3">60</tspan></text>
<text class="t ty" transform="translate(222.6,375.2) scale(1.17,1)" text-anchor="end">0<tspan dx="1.3">.</tspan><tspan dx="1.3">40</tspan></text>
<text class="t ty" transform="translate(222.6,699.3) scale(1.17,1)" text-anchor="end">0<tspan dx="1.3">.</tspan><tspan dx="1.3">20</tspan></text>
<text class="t ty" transform="translate(222.6,1023.3) scale(1.17,1)" text-anchor="end">0<tspan dx="1.3">.</tspan><tspan dx="1.3">00</tspan></text>
<text class="t ty" transform="translate(225,1344.9) scale(1.17,1)" text-anchor="end">-<tspan dx="3">0</tspan><tspan dx="1.3">.</tspan><tspan dx="1.3">20</tspan></text>
<text class="t" transform="translate(279.7,1421.6) scale(1.17,1)" text-anchor="middle">-<tspan dx="3">60</tspan></text>
<text class="t" transform="translate(485.2,1421.6) scale(1.17,1)" text-anchor="middle">-<tspan dx="3">50</tspan></text>
<text class="t" transform="translate(690.7,1421.6) scale(1.17,1)" text-anchor="middle">-<tspan dx="3">40</tspan></text>
<text class="t" transform="translate(896.2,1421.6) scale(1.17,1)" text-anchor="middle">-<tspan dx="3">30</tspan></text>
<text class="t" transform="translate(1101.7,1421.6) scale(1.17,1)" text-anchor="middle">-<tspan dx="3">20</tspan></text>
<text class="t" transform="translate(1307.2,1421.6) scale(1.17,1)" text-anchor="middle">-<tspan dx="3">10</tspan></text>
<text class="t" transform="translate(1512.7,1421.6) scale(1.17,1)" text-anchor="middle">0</text>
<text class="t" transform="translate(1718.2,1421.6) scale(1.17,1)" text-anchor="middle">10</text>
<text class="t" transform="translate(1923.7,1421.6) scale(1.17,1)" text-anchor="middle">20</text>
<g stroke="#8c8c8c" stroke-width="2.2" fill="none">
<path d="M1133.3 806V1176.3H1699"/>
<path d="M1112.5 806H1133.3M1112.5 898.5H1133.3M1112.5 989.8H1133.3M1112.5 1084.3H1133.3M1112.5 1176.3H1133.3"/>
<path d="M1133.3 1176.3V1194M1370 1176.3V1194M1603.7 1176.3V1194"/>
</g>
<text class="t ty" transform="translate(1073.5,824.2) scale(1.17,1)" text-anchor="end">0<tspan dx="1.3">.</tspan><tspan dx="1.3">80</tspan></text>
<text class="t ty" transform="translate(1073.5,916.7) scale(1.17,1)" text-anchor="end">0<tspan dx="1.3">.</tspan><tspan dx="1.3">60</tspan></text>
<text class="t ty" transform="translate(1073.5,1008) scale(1.17,1)" text-anchor="end">0<tspan dx="1.3">.</tspan><tspan dx="1.3">40</tspan></text>
<text class="t ty" transform="translate(1073.5,1102.5) scale(1.17,1)" text-anchor="end">0<tspan dx="1.3">.</tspan><tspan dx="1.3">20</tspan></text>
<text class="t ty" transform="translate(1073.5,1194.5) scale(1.17,1)" text-anchor="end">0<tspan dx="1.3">.</tspan><tspan dx="1.3">00</tspan></text>
<text class="t" transform="translate(1131,1270) scale(1.17,1)" text-anchor="middle">-<tspan dx="3">90</tspan></text>
<text class="t" transform="translate(1367.7,1270) scale(1.17,1)" text-anchor="middle">-<tspan dx="3">40</tspan></text>
<text class="t" transform="translate(1601.4,1270) scale(1.17,1)" text-anchor="middle">10</text>
<text class="s" x="813.5" y="921" text-anchor="middle">(a)</text>
<text class="s" x="821" y="650" text-anchor="middle">(b)</text>
<text class="s" x="845" y="386" text-anchor="middle">(c)</text>
<text class="s" x="1570.5" y="978" text-anchor="middle">(d)</text>
<text class="b" font-size="51.7" x="891.7" y="1508.6" textLength="421" lengthAdjust="spacingAndGlyphs">Temperature (<tspan font-size="35" dy="-16.6">o</tspan><tspan dy="16.6">C)</tspan></text>
<text class="b" font-size="51.7" transform="translate(74.5,749.5) rotate(-90)" textLength="136" lengthAdjust="spacingAndGlyphs">Tan δ</text>
</svg></body></html>
